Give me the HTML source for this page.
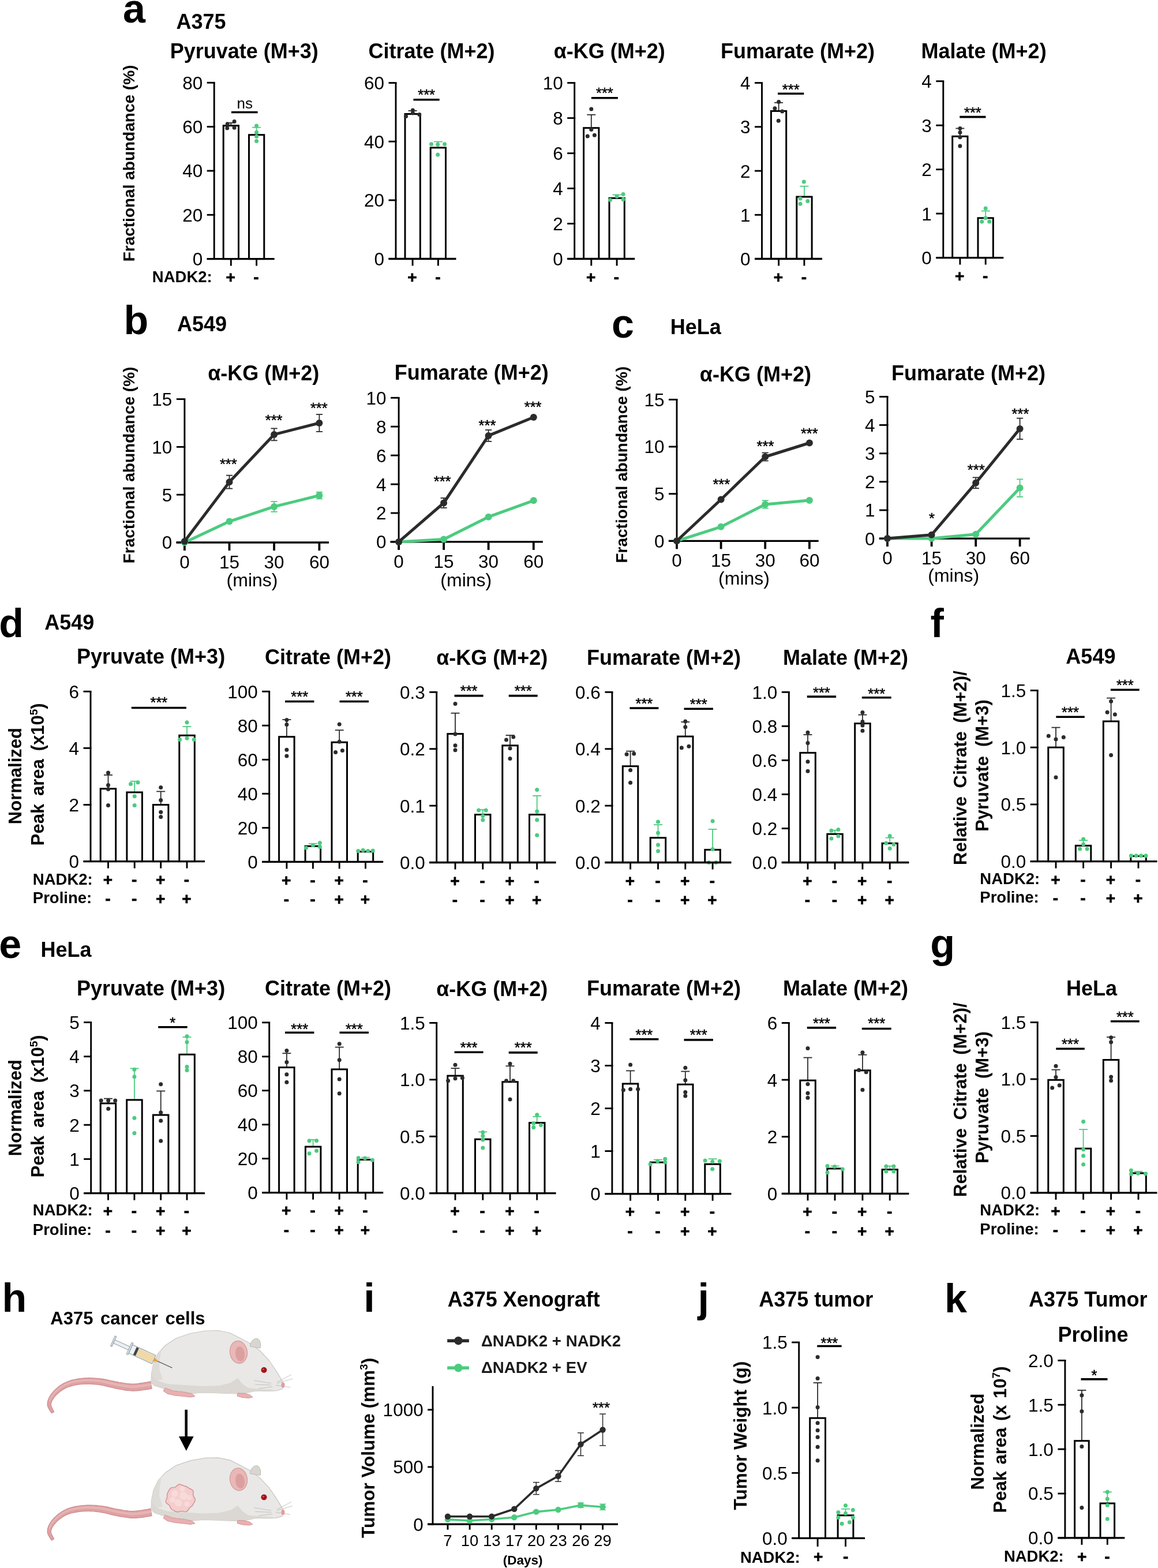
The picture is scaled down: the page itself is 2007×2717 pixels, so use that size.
<!DOCTYPE html>
<html lang="en">
<head>
<meta charset="utf-8">
<title>Figure</title>
<style>html,body{margin:0;padding:0;background:#fff;}body{width:2007px;height:2717px;overflow:hidden;}svg{display:block;}</style>
</head>
<body>
<svg xmlns="http://www.w3.org/2000/svg" width="2007" height="2717" viewBox="0 0 2007 2717" font-family="'Liberation Sans', Arial, Helvetica, sans-serif">
<rect width="2007" height="2717" fill="#fff"/>
<text x="213.1" y="39" font-size="70" font-weight="bold" fill="#000">a</text>
<text x="348.5" y="50" font-size="36" font-weight="bold" text-anchor="middle" fill="#000">A375</text>
<text x="232.6" y="283" font-size="28" font-weight="bold" text-anchor="middle" fill="#000" transform="rotate(-90 232.6 283)">Fractional abundance (%)</text>
<line x1="400.3" y1="217.7" x2="400.3" y2="212.8" stroke="#2b2b2b" stroke-width="1.8"/>
<line x1="392.8" y1="212.8" x2="407.8" y2="212.8" stroke="#2b2b2b" stroke-width="1.8"/>
<rect x="387.2" y="217.7" width="26.3" height="230.9" fill="none" stroke="#000" stroke-width="3"/>
<circle cx="406.1" cy="210.5" r="3.5" fill="#2b2b2b"/>
<circle cx="394.2" cy="214.7" r="3.5" fill="#2b2b2b"/>
<circle cx="393.8" cy="221.9" r="3.5" fill="#2b2b2b"/>
<circle cx="406.1" cy="221.2" r="3.5" fill="#2b2b2b"/>
<line x1="444.6" y1="233.7" x2="444.6" y2="220.8" stroke="#4ccb7f" stroke-width="1.8"/>
<line x1="437.1" y1="220.8" x2="452.1" y2="220.8" stroke="#4ccb7f" stroke-width="1.8"/>
<rect x="431.5" y="233.7" width="26.3" height="214.9" fill="none" stroke="#000" stroke-width="3"/>
<circle cx="444.6" cy="218.1" r="3.5" fill="#4ccb7f"/>
<circle cx="444.6" cy="229.2" r="3.5" fill="#4ccb7f"/>
<circle cx="444.6" cy="236.4" r="3.5" fill="#4ccb7f"/>
<circle cx="444.6" cy="244.4" r="3.5" fill="#4ccb7f"/>
<line x1="371.2" y1="450.1" x2="371.2" y2="143.2" stroke="#000" stroke-width="2.9"/>
<line x1="358.7" y1="448.6" x2="372.6" y2="448.6" stroke="#000" stroke-width="2.9"/>
<text x="351.2" y="460" font-size="31.5" text-anchor="end" fill="#000">0</text>
<line x1="358.7" y1="372.3" x2="372.6" y2="372.3" stroke="#000" stroke-width="2.9"/>
<text x="351.2" y="383.7" font-size="31.5" text-anchor="end" fill="#000">20</text>
<line x1="358.7" y1="296" x2="372.6" y2="296" stroke="#000" stroke-width="2.9"/>
<text x="351.2" y="307.4" font-size="31.5" text-anchor="end" fill="#000">40</text>
<line x1="358.7" y1="219.6" x2="372.6" y2="219.6" stroke="#000" stroke-width="2.9"/>
<text x="351.2" y="231" font-size="31.5" text-anchor="end" fill="#000">60</text>
<line x1="358.7" y1="143.3" x2="372.6" y2="143.3" stroke="#000" stroke-width="2.9"/>
<text x="351.2" y="154.7" font-size="31.5" text-anchor="end" fill="#000">80</text>
<line x1="358.7" y1="448.6" x2="475.7" y2="448.6" stroke="#000" stroke-width="3.3"/>
<line x1="400.3" y1="448.6" x2="400.3" y2="460.6" stroke="#000" stroke-width="2.9"/>
<line x1="444.6" y1="448.6" x2="444.6" y2="460.6" stroke="#000" stroke-width="2.9"/>
<text x="399.7" y="490.4" font-size="28" font-weight="bold" text-anchor="middle" fill="#000" stroke="#000" stroke-width="0.7">+</text>
<text x="444" y="490.4" font-size="28" font-weight="bold" text-anchor="middle" fill="#000" stroke="#000" stroke-width="0.7">-</text>
<text x="423.2" y="100.5" font-size="36" font-weight="bold" text-anchor="middle" fill="#000">Pyruvate (M+3)</text>
<line x1="715.1" y1="197.5" x2="715.1" y2="191.9" stroke="#2b2b2b" stroke-width="1.8"/>
<line x1="707.6" y1="191.9" x2="722.6" y2="191.9" stroke="#2b2b2b" stroke-width="1.8"/>
<rect x="702" y="197.5" width="26.3" height="251" fill="none" stroke="#000" stroke-width="3"/>
<circle cx="715.4" cy="190.9" r="3.5" fill="#2b2b2b"/>
<circle cx="715.4" cy="195.9" r="3.5" fill="#2b2b2b"/>
<circle cx="703.6" cy="201.5" r="3.5" fill="#2b2b2b"/>
<circle cx="726.8" cy="198.5" r="3.5" fill="#2b2b2b"/>
<line x1="759.4" y1="255.9" x2="759.4" y2="245.5" stroke="#4ccb7f" stroke-width="1.8"/>
<line x1="751.9" y1="245.5" x2="766.9" y2="245.5" stroke="#4ccb7f" stroke-width="1.8"/>
<rect x="746.2" y="255.9" width="26.3" height="192.6" fill="none" stroke="#000" stroke-width="3"/>
<circle cx="747.5" cy="249.8" r="3.5" fill="#4ccb7f"/>
<circle cx="758.7" cy="250.3" r="3.5" fill="#4ccb7f"/>
<circle cx="770.6" cy="249.8" r="3.5" fill="#4ccb7f"/>
<circle cx="758.7" cy="268.1" r="3.5" fill="#4ccb7f"/>
<line x1="686" y1="449.9" x2="686" y2="143.5" stroke="#000" stroke-width="2.9"/>
<line x1="673.5" y1="448.5" x2="687.5" y2="448.5" stroke="#000" stroke-width="2.9"/>
<text x="666" y="459.9" font-size="31.5" text-anchor="end" fill="#000">0</text>
<line x1="673.5" y1="346.9" x2="687.5" y2="346.9" stroke="#000" stroke-width="2.9"/>
<text x="666" y="358.3" font-size="31.5" text-anchor="end" fill="#000">20</text>
<line x1="673.5" y1="245.2" x2="687.5" y2="245.2" stroke="#000" stroke-width="2.9"/>
<text x="666" y="256.6" font-size="31.5" text-anchor="end" fill="#000">40</text>
<line x1="673.5" y1="143.6" x2="687.5" y2="143.6" stroke="#000" stroke-width="2.9"/>
<text x="666" y="155" font-size="31.5" text-anchor="end" fill="#000">60</text>
<line x1="673.5" y1="448.5" x2="790.5" y2="448.5" stroke="#000" stroke-width="3.3"/>
<line x1="715.1" y1="448.5" x2="715.1" y2="460.5" stroke="#000" stroke-width="2.9"/>
<line x1="759.4" y1="448.5" x2="759.4" y2="460.5" stroke="#000" stroke-width="2.9"/>
<line x1="716.5" y1="172.7" x2="761.7" y2="172.7" stroke="#000" stroke-width="3.6"/>
<text x="739.1" y="172.9" font-size="25.5" text-anchor="middle" fill="#000" stroke="#000" stroke-width="0.5">***</text>
<text x="714.5" y="490.3" font-size="28" font-weight="bold" text-anchor="middle" fill="#000" stroke="#000" stroke-width="0.7">+</text>
<text x="758.8" y="490.3" font-size="28" font-weight="bold" text-anchor="middle" fill="#000" stroke="#000" stroke-width="0.7">-</text>
<text x="748" y="101" font-size="36" font-weight="bold" text-anchor="middle" fill="#000">Citrate (M+2)</text>
<line x1="1024.8" y1="221.7" x2="1024.8" y2="198.8" stroke="#2b2b2b" stroke-width="1.8"/>
<line x1="1017.3" y1="198.8" x2="1032.3" y2="198.8" stroke="#2b2b2b" stroke-width="1.8"/>
<rect x="1011.6" y="221.7" width="26.3" height="226.8" fill="none" stroke="#000" stroke-width="3"/>
<circle cx="1024.8" cy="189" r="3.5" fill="#2b2b2b"/>
<circle cx="1024.8" cy="224.4" r="3.5" fill="#2b2b2b"/>
<circle cx="1018.3" cy="236" r="3.5" fill="#2b2b2b"/>
<circle cx="1030.4" cy="234.2" r="3.5" fill="#2b2b2b"/>
<line x1="1069.1" y1="343.3" x2="1069.1" y2="337.5" stroke="#4ccb7f" stroke-width="1.8"/>
<line x1="1061.6" y1="337.5" x2="1076.6" y2="337.5" stroke="#4ccb7f" stroke-width="1.8"/>
<rect x="1056" y="343.3" width="26.3" height="105.2" fill="none" stroke="#000" stroke-width="3"/>
<circle cx="1080.1" cy="336.6" r="3.5" fill="#4ccb7f"/>
<circle cx="1069.1" cy="340.3" r="3.5" fill="#4ccb7f"/>
<circle cx="1057.6" cy="346.4" r="3.5" fill="#4ccb7f"/>
<circle cx="1080.1" cy="345.4" r="3.5" fill="#4ccb7f"/>
<line x1="995.7" y1="449.9" x2="995.7" y2="143.5" stroke="#000" stroke-width="2.9"/>
<line x1="983.2" y1="448.5" x2="997.2" y2="448.5" stroke="#000" stroke-width="2.9"/>
<text x="975.7" y="459.9" font-size="31.5" text-anchor="end" fill="#000">0</text>
<line x1="983.2" y1="387.5" x2="997.2" y2="387.5" stroke="#000" stroke-width="2.9"/>
<text x="975.7" y="398.9" font-size="31.5" text-anchor="end" fill="#000">2</text>
<line x1="983.2" y1="326.5" x2="997.2" y2="326.5" stroke="#000" stroke-width="2.9"/>
<text x="975.7" y="337.9" font-size="31.5" text-anchor="end" fill="#000">4</text>
<line x1="983.2" y1="265.6" x2="997.2" y2="265.6" stroke="#000" stroke-width="2.9"/>
<text x="975.7" y="277" font-size="31.5" text-anchor="end" fill="#000">6</text>
<line x1="983.2" y1="204.6" x2="997.2" y2="204.6" stroke="#000" stroke-width="2.9"/>
<text x="975.7" y="216" font-size="31.5" text-anchor="end" fill="#000">8</text>
<line x1="983.2" y1="143.6" x2="997.2" y2="143.6" stroke="#000" stroke-width="2.9"/>
<text x="975.7" y="155" font-size="31.5" text-anchor="end" fill="#000">10</text>
<line x1="983.2" y1="448.5" x2="1100.2" y2="448.5" stroke="#000" stroke-width="3.3"/>
<line x1="1024.8" y1="448.5" x2="1024.8" y2="460.5" stroke="#000" stroke-width="2.9"/>
<line x1="1069.1" y1="448.5" x2="1069.1" y2="460.5" stroke="#000" stroke-width="2.9"/>
<line x1="1024.9" y1="169.8" x2="1070.9" y2="169.8" stroke="#000" stroke-width="3.6"/>
<text x="1047.9" y="169.9" font-size="25.5" text-anchor="middle" fill="#000" stroke="#000" stroke-width="0.5">***</text>
<text x="1024.2" y="490.3" font-size="28" font-weight="bold" text-anchor="middle" fill="#000" stroke="#000" stroke-width="0.7">+</text>
<text x="1068.5" y="490.3" font-size="28" font-weight="bold" text-anchor="middle" fill="#000" stroke="#000" stroke-width="0.7">-</text>
<text x="1056.2" y="101" font-size="36" font-weight="bold" text-anchor="middle" fill="#000">α-KG (M+2)</text>
<line x1="1349.6" y1="192.4" x2="1349.6" y2="177.9" stroke="#2b2b2b" stroke-width="1.8"/>
<line x1="1342.1" y1="177.9" x2="1357.1" y2="177.9" stroke="#2b2b2b" stroke-width="1.8"/>
<rect x="1336.4" y="192.4" width="26.3" height="256.1" fill="none" stroke="#000" stroke-width="3"/>
<circle cx="1349.6" cy="176.4" r="3.5" fill="#2b2b2b"/>
<circle cx="1342.9" cy="187.8" r="3.5" fill="#2b2b2b"/>
<circle cx="1355.7" cy="193.1" r="3.5" fill="#2b2b2b"/>
<circle cx="1349.2" cy="209.2" r="3.5" fill="#2b2b2b"/>
<line x1="1393.9" y1="341" x2="1393.9" y2="322.7" stroke="#4ccb7f" stroke-width="1.8"/>
<line x1="1386.4" y1="322.7" x2="1401.4" y2="322.7" stroke="#4ccb7f" stroke-width="1.8"/>
<rect x="1380.8" y="341" width="26.3" height="107.5" fill="none" stroke="#000" stroke-width="3"/>
<circle cx="1393.3" cy="315.1" r="3.5" fill="#4ccb7f"/>
<circle cx="1387" cy="344.1" r="3.5" fill="#4ccb7f"/>
<circle cx="1399.8" cy="348.6" r="3.5" fill="#4ccb7f"/>
<circle cx="1387" cy="353.2" r="3.5" fill="#4ccb7f"/>
<line x1="1320.5" y1="449.9" x2="1320.5" y2="143.5" stroke="#000" stroke-width="2.9"/>
<line x1="1308" y1="448.5" x2="1322" y2="448.5" stroke="#000" stroke-width="2.9"/>
<text x="1300.5" y="459.9" font-size="31.5" text-anchor="end" fill="#000">0</text>
<line x1="1308" y1="372.3" x2="1322" y2="372.3" stroke="#000" stroke-width="2.9"/>
<text x="1300.5" y="383.7" font-size="31.5" text-anchor="end" fill="#000">1</text>
<line x1="1308" y1="296.1" x2="1322" y2="296.1" stroke="#000" stroke-width="2.9"/>
<text x="1300.5" y="307.5" font-size="31.5" text-anchor="end" fill="#000">2</text>
<line x1="1308" y1="219.8" x2="1322" y2="219.8" stroke="#000" stroke-width="2.9"/>
<text x="1300.5" y="231.2" font-size="31.5" text-anchor="end" fill="#000">3</text>
<line x1="1308" y1="143.6" x2="1322" y2="143.6" stroke="#000" stroke-width="2.9"/>
<text x="1300.5" y="155" font-size="31.5" text-anchor="end" fill="#000">4</text>
<line x1="1308" y1="448.5" x2="1425" y2="448.5" stroke="#000" stroke-width="3.3"/>
<line x1="1349.6" y1="448.5" x2="1349.6" y2="460.5" stroke="#000" stroke-width="2.9"/>
<line x1="1393.9" y1="448.5" x2="1393.9" y2="460.5" stroke="#000" stroke-width="2.9"/>
<line x1="1348" y1="162.3" x2="1393.3" y2="162.3" stroke="#000" stroke-width="3.6"/>
<text x="1370.7" y="164" font-size="25.5" text-anchor="middle" fill="#000" stroke="#000" stroke-width="0.5">***</text>
<text x="1349" y="490.3" font-size="28" font-weight="bold" text-anchor="middle" fill="#000" stroke="#000" stroke-width="0.7">+</text>
<text x="1393.3" y="490.3" font-size="28" font-weight="bold" text-anchor="middle" fill="#000" stroke="#000" stroke-width="0.7">-</text>
<text x="1382.5" y="101" font-size="36" font-weight="bold" text-anchor="middle" fill="#000">Fumarate (M+2)</text>
<line x1="1663.9" y1="236.3" x2="1663.9" y2="222.5" stroke="#2b2b2b" stroke-width="1.8"/>
<line x1="1656.4" y1="222.5" x2="1671.4" y2="222.5" stroke="#2b2b2b" stroke-width="1.8"/>
<rect x="1650.7" y="236.3" width="26.3" height="210.3" fill="none" stroke="#000" stroke-width="3"/>
<circle cx="1663.9" cy="222.5" r="3.5" fill="#2b2b2b"/>
<circle cx="1663.9" cy="229.4" r="3.5" fill="#2b2b2b"/>
<circle cx="1663.9" cy="237.8" r="3.5" fill="#2b2b2b"/>
<circle cx="1663.9" cy="253.1" r="3.5" fill="#2b2b2b"/>
<line x1="1708.2" y1="377.8" x2="1708.2" y2="365.5" stroke="#4ccb7f" stroke-width="1.8"/>
<line x1="1700.7" y1="365.5" x2="1715.7" y2="365.5" stroke="#4ccb7f" stroke-width="1.8"/>
<rect x="1695" y="377.8" width="26.3" height="68.8" fill="none" stroke="#000" stroke-width="3"/>
<circle cx="1708.2" cy="360.9" r="3.5" fill="#4ccb7f"/>
<circle cx="1708.2" cy="377.8" r="3.5" fill="#4ccb7f"/>
<circle cx="1701.7" cy="383.9" r="3.5" fill="#4ccb7f"/>
<circle cx="1714.7" cy="383.9" r="3.5" fill="#4ccb7f"/>
<line x1="1634.8" y1="448.1" x2="1634.8" y2="140.6" stroke="#000" stroke-width="2.9"/>
<line x1="1622.3" y1="446.6" x2="1636.2" y2="446.6" stroke="#000" stroke-width="2.9"/>
<text x="1614.8" y="458" font-size="31.5" text-anchor="end" fill="#000">0</text>
<line x1="1622.3" y1="370.1" x2="1636.2" y2="370.1" stroke="#000" stroke-width="2.9"/>
<text x="1614.8" y="381.5" font-size="31.5" text-anchor="end" fill="#000">1</text>
<line x1="1622.3" y1="293.6" x2="1636.2" y2="293.6" stroke="#000" stroke-width="2.9"/>
<text x="1614.8" y="305.1" font-size="31.5" text-anchor="end" fill="#000">2</text>
<line x1="1622.3" y1="217.2" x2="1636.2" y2="217.2" stroke="#000" stroke-width="2.9"/>
<text x="1614.8" y="228.6" font-size="31.5" text-anchor="end" fill="#000">3</text>
<line x1="1622.3" y1="140.7" x2="1636.2" y2="140.7" stroke="#000" stroke-width="2.9"/>
<text x="1614.8" y="152.1" font-size="31.5" text-anchor="end" fill="#000">4</text>
<line x1="1622.3" y1="446.6" x2="1739.3" y2="446.6" stroke="#000" stroke-width="3.3"/>
<line x1="1663.9" y1="446.6" x2="1663.9" y2="458.6" stroke="#000" stroke-width="2.9"/>
<line x1="1708.2" y1="446.6" x2="1708.2" y2="458.6" stroke="#000" stroke-width="2.9"/>
<line x1="1663.3" y1="202.6" x2="1708.5" y2="202.6" stroke="#000" stroke-width="3.6"/>
<text x="1685.9" y="204.3" font-size="25.5" text-anchor="middle" fill="#000" stroke="#000" stroke-width="0.5">***</text>
<text x="1663.3" y="488.4" font-size="28" font-weight="bold" text-anchor="middle" fill="#000" stroke="#000" stroke-width="0.7">+</text>
<text x="1707.6" y="488.4" font-size="28" font-weight="bold" text-anchor="middle" fill="#000" stroke="#000" stroke-width="0.7">-</text>
<text x="1705.1" y="101" font-size="36" font-weight="bold" text-anchor="middle" fill="#000">Malate (M+2)</text>
<line x1="401" y1="194.5" x2="446.6" y2="194.5" stroke="#000" stroke-width="3.6"/>
<text x="424.2" y="188" font-size="26" text-anchor="middle" fill="#000">ns</text>
<text x="263.8" y="488.6" font-size="27.5" font-weight="bold" fill="#000">NADK2:</text>
<text x="214.4" y="579.2" font-size="70" font-weight="bold" fill="#000">b</text>
<text x="350" y="574" font-size="36" font-weight="bold" text-anchor="middle" fill="#000">A549</text>
<text x="1060" y="584.6" font-size="70" font-weight="bold" fill="#000">c</text>
<text x="1205.7" y="578.5" font-size="36" font-weight="bold" text-anchor="middle" fill="#000">HeLa</text>
<text x="233.4" y="806" font-size="28" font-weight="bold" text-anchor="middle" fill="#000" transform="rotate(-90 233.4 806)">Fractional abundance (%)</text>
<text x="1086.6" y="805.2" font-size="28" font-weight="bold" text-anchor="middle" fill="#000" transform="rotate(-90 1086.6 805.2)">Fractional abundance (%)</text>
<line x1="319.9" y1="941.5" x2="319.9" y2="691.4" stroke="#000" stroke-width="2.9"/>
<line x1="305.9" y1="940" x2="321.3" y2="940" stroke="#000" stroke-width="2.9"/>
<text x="298.4" y="951.4" font-size="31.5" text-anchor="end" fill="#000">0</text>
<line x1="305.9" y1="857.2" x2="321.3" y2="857.2" stroke="#000" stroke-width="2.9"/>
<text x="298.4" y="868.6" font-size="31.5" text-anchor="end" fill="#000">5</text>
<line x1="305.9" y1="774.4" x2="321.3" y2="774.4" stroke="#000" stroke-width="2.9"/>
<text x="298.4" y="785.8" font-size="31.5" text-anchor="end" fill="#000">10</text>
<line x1="305.9" y1="691.6" x2="321.3" y2="691.6" stroke="#000" stroke-width="2.9"/>
<text x="298.4" y="703" font-size="31.5" text-anchor="end" fill="#000">15</text>
<line x1="305.4" y1="940" x2="570" y2="940" stroke="#000" stroke-width="3.3"/>
<line x1="319.9" y1="940" x2="319.9" y2="954" stroke="#000" stroke-width="3.8"/>
<line x1="397.5" y1="940" x2="397.5" y2="954" stroke="#000" stroke-width="3.8"/>
<line x1="475.1" y1="940" x2="475.1" y2="954" stroke="#000" stroke-width="3.8"/>
<line x1="553.4" y1="940" x2="553.4" y2="954" stroke="#000" stroke-width="3.8"/>
<text x="319.9" y="985" font-size="31.5" text-anchor="middle" fill="#000">0</text>
<text x="397.5" y="985" font-size="31.5" text-anchor="middle" fill="#000">15</text>
<text x="475.1" y="985" font-size="31.5" text-anchor="middle" fill="#000">30</text>
<text x="553.4" y="985" font-size="31.5" text-anchor="middle" fill="#000">60</text>
<line x1="475.1" y1="886.8" x2="475.1" y2="869" stroke="#4ccb7f" stroke-width="1.8"/>
<line x1="469.5" y1="886.8" x2="480.7" y2="886.8" stroke="#4ccb7f" stroke-width="1.8"/>
<line x1="469.5" y1="869" x2="480.7" y2="869" stroke="#4ccb7f" stroke-width="1.8"/>
<line x1="553.4" y1="864.3" x2="553.4" y2="852.7" stroke="#4ccb7f" stroke-width="1.8"/>
<line x1="547.8" y1="864.3" x2="559" y2="864.3" stroke="#4ccb7f" stroke-width="1.8"/>
<line x1="547.8" y1="852.7" x2="559" y2="852.7" stroke="#4ccb7f" stroke-width="1.8"/>
<polyline points="319.9,940 397.5,903.6 475.1,877.9 553.4,858.5" fill="none" stroke="#4ccb7f" stroke-width="5" stroke-linejoin="round"/>
<circle cx="319.9" cy="940" r="6" fill="#4ccb7f"/>
<circle cx="397.5" cy="903.6" r="6" fill="#4ccb7f"/>
<circle cx="475.1" cy="877.9" r="6" fill="#4ccb7f"/>
<circle cx="553.4" cy="858.5" r="6" fill="#4ccb7f"/>
<line x1="397.5" y1="846.6" x2="397.5" y2="823.7" stroke="#2b2b2b" stroke-width="1.8"/>
<line x1="391.9" y1="846.6" x2="403.1" y2="846.6" stroke="#2b2b2b" stroke-width="1.8"/>
<line x1="391.9" y1="823.7" x2="403.1" y2="823.7" stroke="#2b2b2b" stroke-width="1.8"/>
<line x1="475.1" y1="763.3" x2="475.1" y2="742.4" stroke="#2b2b2b" stroke-width="1.8"/>
<line x1="469.5" y1="763.3" x2="480.7" y2="763.3" stroke="#2b2b2b" stroke-width="1.8"/>
<line x1="469.5" y1="742.4" x2="480.7" y2="742.4" stroke="#2b2b2b" stroke-width="1.8"/>
<line x1="553.4" y1="747.9" x2="553.4" y2="718.1" stroke="#2b2b2b" stroke-width="1.8"/>
<line x1="547.8" y1="747.9" x2="559" y2="747.9" stroke="#2b2b2b" stroke-width="1.8"/>
<line x1="547.8" y1="718.1" x2="559" y2="718.1" stroke="#2b2b2b" stroke-width="1.8"/>
<polyline points="319.9,938 397.5,835.2 475.1,752.9 553.4,733" fill="none" stroke="#2b2b2b" stroke-width="5" stroke-linejoin="round"/>
<circle cx="319.9" cy="938" r="6" fill="#2b2b2b"/>
<circle cx="397.5" cy="835.2" r="6" fill="#2b2b2b"/>
<circle cx="475.1" cy="752.9" r="6" fill="#2b2b2b"/>
<circle cx="553.4" cy="733" r="6" fill="#2b2b2b"/>
<text x="395.8" y="813.4" font-size="25.5" text-anchor="middle" fill="#000" stroke="#000" stroke-width="0.5">***</text>
<text x="474.6" y="737.1" font-size="25.5" text-anchor="middle" fill="#000" stroke="#000" stroke-width="0.5">***</text>
<text x="552.8" y="715.6" font-size="25.5" text-anchor="middle" fill="#000" stroke="#000" stroke-width="0.5">***</text>
<text x="456.8" y="658.6" font-size="36" font-weight="bold" text-anchor="middle" fill="#000">α-KG (M+2)</text>
<text x="437" y="1016.4" font-size="32" text-anchor="middle" fill="#000">(mins)</text>
<line x1="691.1" y1="940.4" x2="691.1" y2="689.1" stroke="#000" stroke-width="2.9"/>
<line x1="677.1" y1="938.9" x2="692.6" y2="938.9" stroke="#000" stroke-width="2.9"/>
<text x="669.6" y="950.3" font-size="31.5" text-anchor="end" fill="#000">0</text>
<line x1="677.1" y1="889" x2="692.6" y2="889" stroke="#000" stroke-width="2.9"/>
<text x="669.6" y="900.4" font-size="31.5" text-anchor="end" fill="#000">2</text>
<line x1="677.1" y1="839.1" x2="692.6" y2="839.1" stroke="#000" stroke-width="2.9"/>
<text x="669.6" y="850.5" font-size="31.5" text-anchor="end" fill="#000">4</text>
<line x1="677.1" y1="789.1" x2="692.6" y2="789.1" stroke="#000" stroke-width="2.9"/>
<text x="669.6" y="800.5" font-size="31.5" text-anchor="end" fill="#000">6</text>
<line x1="677.1" y1="739.2" x2="692.6" y2="739.2" stroke="#000" stroke-width="2.9"/>
<text x="669.6" y="750.6" font-size="31.5" text-anchor="end" fill="#000">8</text>
<line x1="677.1" y1="689.3" x2="692.6" y2="689.3" stroke="#000" stroke-width="2.9"/>
<text x="669.6" y="700.7" font-size="31.5" text-anchor="end" fill="#000">10</text>
<line x1="676.4" y1="938.9" x2="940.9" y2="938.9" stroke="#000" stroke-width="3.3"/>
<line x1="691.1" y1="938.9" x2="691.1" y2="952.9" stroke="#000" stroke-width="3.8"/>
<line x1="769.1" y1="938.9" x2="769.1" y2="952.9" stroke="#000" stroke-width="3.8"/>
<line x1="846.6" y1="938.9" x2="846.6" y2="952.9" stroke="#000" stroke-width="3.8"/>
<line x1="924.8" y1="938.9" x2="924.8" y2="952.9" stroke="#000" stroke-width="3.8"/>
<text x="691.1" y="984.2" font-size="31.5" text-anchor="middle" fill="#000">0</text>
<text x="769.1" y="984.2" font-size="31.5" text-anchor="middle" fill="#000">15</text>
<text x="846.6" y="984.2" font-size="31.5" text-anchor="middle" fill="#000">30</text>
<text x="924.8" y="984.2" font-size="31.5" text-anchor="middle" fill="#000">60</text>
<polyline points="691.1,938.9 769.1,934.4 846.6,895.7 924.8,867.3" fill="none" stroke="#4ccb7f" stroke-width="5" stroke-linejoin="round"/>
<circle cx="691.1" cy="938.9" r="6" fill="#4ccb7f"/>
<circle cx="769.1" cy="934.4" r="6" fill="#4ccb7f"/>
<circle cx="846.6" cy="895.7" r="6" fill="#4ccb7f"/>
<circle cx="924.8" cy="867.3" r="6" fill="#4ccb7f"/>
<line x1="769.1" y1="880" x2="769.1" y2="863" stroke="#2b2b2b" stroke-width="1.8"/>
<line x1="763.5" y1="880" x2="774.7" y2="880" stroke="#2b2b2b" stroke-width="1.8"/>
<line x1="763.5" y1="863" x2="774.7" y2="863" stroke="#2b2b2b" stroke-width="1.8"/>
<line x1="846.6" y1="764.9" x2="846.6" y2="745" stroke="#2b2b2b" stroke-width="1.8"/>
<line x1="841" y1="764.9" x2="852.2" y2="764.9" stroke="#2b2b2b" stroke-width="1.8"/>
<line x1="841" y1="745" x2="852.2" y2="745" stroke="#2b2b2b" stroke-width="1.8"/>
<polyline points="691.1,938.9 769.1,871.5 846.6,754.9 924.8,723" fill="none" stroke="#2b2b2b" stroke-width="5" stroke-linejoin="round"/>
<circle cx="691.1" cy="938.9" r="6" fill="#2b2b2b"/>
<circle cx="769.1" cy="871.5" r="6" fill="#2b2b2b"/>
<circle cx="846.6" cy="754.9" r="6" fill="#2b2b2b"/>
<circle cx="924.8" cy="723" r="6" fill="#2b2b2b"/>
<text x="766.6" y="843.2" font-size="25.5" text-anchor="middle" fill="#000" stroke="#000" stroke-width="0.5">***</text>
<text x="844.5" y="745.5" font-size="25.5" text-anchor="middle" fill="#000" stroke="#000" stroke-width="0.5">***</text>
<text x="923.6" y="714" font-size="25.5" text-anchor="middle" fill="#000" stroke="#000" stroke-width="0.5">***</text>
<text x="817.2" y="657.5" font-size="36" font-weight="bold" text-anchor="middle" fill="#000">Fumarate (M+2)</text>
<text x="807.8" y="1016" font-size="32" text-anchor="middle" fill="#000">(mins)</text>
<line x1="1173" y1="938.8" x2="1173" y2="692.2" stroke="#000" stroke-width="2.9"/>
<line x1="1159" y1="937.3" x2="1174.5" y2="937.3" stroke="#000" stroke-width="2.9"/>
<text x="1151.5" y="948.7" font-size="31.5" text-anchor="end" fill="#000">0</text>
<line x1="1159" y1="855.7" x2="1174.5" y2="855.7" stroke="#000" stroke-width="2.9"/>
<text x="1151.5" y="867.1" font-size="31.5" text-anchor="end" fill="#000">5</text>
<line x1="1159" y1="774" x2="1174.5" y2="774" stroke="#000" stroke-width="2.9"/>
<text x="1151.5" y="785.4" font-size="31.5" text-anchor="end" fill="#000">10</text>
<line x1="1159" y1="692.4" x2="1174.5" y2="692.4" stroke="#000" stroke-width="2.9"/>
<text x="1151.5" y="703.8" font-size="31.5" text-anchor="end" fill="#000">15</text>
<line x1="1158.8" y1="937.3" x2="1418.7" y2="937.3" stroke="#000" stroke-width="3.3"/>
<line x1="1173" y1="937.3" x2="1173" y2="951.3" stroke="#000" stroke-width="3.8"/>
<line x1="1249.6" y1="937.3" x2="1249.6" y2="951.3" stroke="#000" stroke-width="3.8"/>
<line x1="1326.2" y1="937.3" x2="1326.2" y2="951.3" stroke="#000" stroke-width="3.8"/>
<line x1="1402.9" y1="937.3" x2="1402.9" y2="951.3" stroke="#000" stroke-width="3.8"/>
<text x="1173" y="982.3" font-size="31.5" text-anchor="middle" fill="#000">0</text>
<text x="1249.6" y="982.3" font-size="31.5" text-anchor="middle" fill="#000">15</text>
<text x="1326.2" y="982.3" font-size="31.5" text-anchor="middle" fill="#000">30</text>
<text x="1402.9" y="982.3" font-size="31.5" text-anchor="middle" fill="#000">60</text>
<line x1="1326.2" y1="880.6" x2="1326.2" y2="867.3" stroke="#4ccb7f" stroke-width="1.8"/>
<line x1="1320.6" y1="880.6" x2="1331.8" y2="880.6" stroke="#4ccb7f" stroke-width="1.8"/>
<line x1="1320.6" y1="867.3" x2="1331.8" y2="867.3" stroke="#4ccb7f" stroke-width="1.8"/>
<polyline points="1173,937.3 1249.6,912.8 1326.2,874 1402.9,867.1" fill="none" stroke="#4ccb7f" stroke-width="5" stroke-linejoin="round"/>
<circle cx="1173" cy="937.3" r="6" fill="#4ccb7f"/>
<circle cx="1249.6" cy="912.8" r="6" fill="#4ccb7f"/>
<circle cx="1326.2" cy="874" r="6" fill="#4ccb7f"/>
<circle cx="1402.9" cy="867.1" r="6" fill="#4ccb7f"/>
<line x1="1326.2" y1="798.5" x2="1326.2" y2="784.5" stroke="#2b2b2b" stroke-width="1.8"/>
<line x1="1320.6" y1="798.5" x2="1331.8" y2="798.5" stroke="#2b2b2b" stroke-width="1.8"/>
<line x1="1320.6" y1="784.5" x2="1331.8" y2="784.5" stroke="#2b2b2b" stroke-width="1.8"/>
<polyline points="1173,937.3 1249.6,865.5 1326.2,791.5 1402.9,767.5" fill="none" stroke="#2b2b2b" stroke-width="5" stroke-linejoin="round"/>
<circle cx="1173" cy="937.3" r="6" fill="#2b2b2b"/>
<circle cx="1249.6" cy="865.5" r="6" fill="#2b2b2b"/>
<circle cx="1326.2" cy="791.5" r="6" fill="#2b2b2b"/>
<circle cx="1402.9" cy="767.5" r="6" fill="#2b2b2b"/>
<text x="1250.3" y="847.7" font-size="25.5" text-anchor="middle" fill="#000" stroke="#000" stroke-width="0.5">***</text>
<text x="1326.5" y="781.6" font-size="25.5" text-anchor="middle" fill="#000" stroke="#000" stroke-width="0.5">***</text>
<text x="1402.8" y="760" font-size="25.5" text-anchor="middle" fill="#000" stroke="#000" stroke-width="0.5">***</text>
<text x="1309.4" y="661.1" font-size="36" font-weight="bold" text-anchor="middle" fill="#000">α-KG (M+2)</text>
<text x="1289.5" y="1013.2" font-size="32" text-anchor="middle" fill="#000">(mins)</text>
<line x1="1538" y1="934.6" x2="1538" y2="687.2" stroke="#000" stroke-width="2.9"/>
<line x1="1524" y1="933.1" x2="1539.5" y2="933.1" stroke="#000" stroke-width="2.9"/>
<text x="1516.5" y="944.5" font-size="31.5" text-anchor="end" fill="#000">0</text>
<line x1="1524" y1="884" x2="1539.5" y2="884" stroke="#000" stroke-width="2.9"/>
<text x="1516.5" y="895.4" font-size="31.5" text-anchor="end" fill="#000">1</text>
<line x1="1524" y1="834.8" x2="1539.5" y2="834.8" stroke="#000" stroke-width="2.9"/>
<text x="1516.5" y="846.2" font-size="31.5" text-anchor="end" fill="#000">2</text>
<line x1="1524" y1="785.7" x2="1539.5" y2="785.7" stroke="#000" stroke-width="2.9"/>
<text x="1516.5" y="797.1" font-size="31.5" text-anchor="end" fill="#000">3</text>
<line x1="1524" y1="736.5" x2="1539.5" y2="736.5" stroke="#000" stroke-width="2.9"/>
<text x="1516.5" y="747.9" font-size="31.5" text-anchor="end" fill="#000">4</text>
<line x1="1524" y1="687.4" x2="1539.5" y2="687.4" stroke="#000" stroke-width="2.9"/>
<text x="1516.5" y="698.8" font-size="31.5" text-anchor="end" fill="#000">5</text>
<line x1="1523.7" y1="933.1" x2="1784.8" y2="933.1" stroke="#000" stroke-width="3.3"/>
<line x1="1538" y1="933.1" x2="1538" y2="947.1" stroke="#000" stroke-width="3.8"/>
<line x1="1614.6" y1="933.1" x2="1614.6" y2="947.1" stroke="#000" stroke-width="3.8"/>
<line x1="1691.2" y1="933.1" x2="1691.2" y2="947.1" stroke="#000" stroke-width="3.8"/>
<line x1="1767.6" y1="933.1" x2="1767.6" y2="947.1" stroke="#000" stroke-width="3.8"/>
<text x="1538" y="977.8" font-size="31.5" text-anchor="middle" fill="#000">0</text>
<text x="1614.6" y="977.8" font-size="31.5" text-anchor="middle" fill="#000">15</text>
<text x="1691.2" y="977.8" font-size="31.5" text-anchor="middle" fill="#000">30</text>
<text x="1767.6" y="977.8" font-size="31.5" text-anchor="middle" fill="#000">60</text>
<line x1="1767.6" y1="860.9" x2="1767.6" y2="830.4" stroke="#4ccb7f" stroke-width="1.8"/>
<line x1="1762" y1="860.9" x2="1773.2" y2="860.9" stroke="#4ccb7f" stroke-width="1.8"/>
<line x1="1762" y1="830.4" x2="1773.2" y2="830.4" stroke="#4ccb7f" stroke-width="1.8"/>
<polyline points="1538,933.1 1614.6,933.1 1691.2,925.7 1767.6,845.6" fill="none" stroke="#4ccb7f" stroke-width="5" stroke-linejoin="round"/>
<circle cx="1538" cy="933.1" r="6" fill="#4ccb7f"/>
<circle cx="1614.6" cy="933.1" r="6" fill="#4ccb7f"/>
<circle cx="1691.2" cy="925.7" r="6" fill="#4ccb7f"/>
<circle cx="1767.6" cy="845.6" r="6" fill="#4ccb7f"/>
<line x1="1691.2" y1="846.1" x2="1691.2" y2="827.4" stroke="#2b2b2b" stroke-width="1.8"/>
<line x1="1685.6" y1="846.1" x2="1696.8" y2="846.1" stroke="#2b2b2b" stroke-width="1.8"/>
<line x1="1685.6" y1="827.4" x2="1696.8" y2="827.4" stroke="#2b2b2b" stroke-width="1.8"/>
<line x1="1767.6" y1="761.1" x2="1767.6" y2="724.7" stroke="#2b2b2b" stroke-width="1.8"/>
<line x1="1762" y1="761.1" x2="1773.2" y2="761.1" stroke="#2b2b2b" stroke-width="1.8"/>
<line x1="1762" y1="724.7" x2="1773.2" y2="724.7" stroke="#2b2b2b" stroke-width="1.8"/>
<polyline points="1538,933.1 1614.6,926.7 1691.2,836.8 1767.6,742.9" fill="none" stroke="#2b2b2b" stroke-width="5" stroke-linejoin="round"/>
<circle cx="1538" cy="933.1" r="6" fill="#2b2b2b"/>
<circle cx="1614.6" cy="926.7" r="6" fill="#2b2b2b"/>
<circle cx="1691.2" cy="836.8" r="6" fill="#2b2b2b"/>
<circle cx="1767.6" cy="742.9" r="6" fill="#2b2b2b"/>
<text x="1615" y="906.6" font-size="25.5" text-anchor="middle" fill="#000" stroke="#000" stroke-width="0.5">*</text>
<text x="1691.7" y="822.5" font-size="25.5" text-anchor="middle" fill="#000" stroke="#000" stroke-width="0.5">***</text>
<text x="1768.5" y="725.9" font-size="25.5" text-anchor="middle" fill="#000" stroke="#000" stroke-width="0.5">***</text>
<text x="1678.5" y="658.7" font-size="36" font-weight="bold" text-anchor="middle" fill="#000">Fumarate (M+2)</text>
<text x="1652.7" y="1008.3" font-size="32" text-anchor="middle" fill="#000">(mins)</text>
<text x="-1.7" y="1103.5" font-size="70" font-weight="bold" fill="#000">d</text>
<text x="120.2" y="1090.8" font-size="36" font-weight="bold" text-anchor="middle" fill="#000">A549</text>
<text x="36.9" y="1344.6" font-size="31" font-weight="bold" text-anchor="middle" fill="#000" transform="rotate(-90 36.9 1344.6)">Normalized</text>
<text x="75.6" y="1341.8" font-size="31" font-weight="bold" text-anchor="middle" fill="#000" transform="rotate(-90 75.6 1341.8)" word-spacing="5.3">Peak area (x10<tspan font-size="19" dy="-11">5</tspan><tspan dy="11">)</tspan></text>
<text x="56.8" y="1532.6" font-size="27.5" font-weight="bold" fill="#000">NADK2:</text>
<text x="56.8" y="1565.2" font-size="27.5" font-weight="bold" fill="#000">Proline:</text>
<line x1="187.5" y1="1366.7" x2="187.5" y2="1342.9" stroke="#2b2b2b" stroke-width="1.8"/>
<line x1="180" y1="1342.9" x2="195" y2="1342.9" stroke="#2b2b2b" stroke-width="1.8"/>
<rect x="174.2" y="1366.7" width="26.5" height="125.9" fill="none" stroke="#000" stroke-width="3"/>
<circle cx="187.5" cy="1339" r="3.5" fill="#2b2b2b"/>
<circle cx="187.5" cy="1360.6" r="3.5" fill="#2b2b2b"/>
<circle cx="187.5" cy="1367.5" r="3.5" fill="#2b2b2b"/>
<circle cx="187.5" cy="1395.4" r="3.5" fill="#2b2b2b"/>
<line x1="233.2" y1="1372.9" x2="233.2" y2="1353.7" stroke="#4ccb7f" stroke-width="1.8"/>
<line x1="225.7" y1="1353.7" x2="240.7" y2="1353.7" stroke="#4ccb7f" stroke-width="1.8"/>
<rect x="219.9" y="1372.9" width="26.5" height="119.7" fill="none" stroke="#000" stroke-width="3"/>
<circle cx="226.5" cy="1358.6" r="3.5" fill="#4ccb7f"/>
<circle cx="239" cy="1355.7" r="3.5" fill="#4ccb7f"/>
<circle cx="233.2" cy="1379.7" r="3.5" fill="#4ccb7f"/>
<circle cx="233.2" cy="1395.4" r="3.5" fill="#4ccb7f"/>
<line x1="278.7" y1="1394.5" x2="278.7" y2="1371.4" stroke="#2b2b2b" stroke-width="1.8"/>
<line x1="271.2" y1="1371.4" x2="286.2" y2="1371.4" stroke="#2b2b2b" stroke-width="1.8"/>
<rect x="265.4" y="1394.5" width="26.5" height="98.1" fill="none" stroke="#000" stroke-width="3"/>
<circle cx="278.7" cy="1364.5" r="3.5" fill="#2b2b2b"/>
<circle cx="278.7" cy="1386.6" r="3.5" fill="#2b2b2b"/>
<circle cx="278.7" cy="1407.2" r="3.5" fill="#2b2b2b"/>
<circle cx="278.7" cy="1415.6" r="3.5" fill="#2b2b2b"/>
<line x1="324" y1="1274.3" x2="324" y2="1259" stroke="#4ccb7f" stroke-width="1.8"/>
<line x1="316.5" y1="1259" x2="331.5" y2="1259" stroke="#4ccb7f" stroke-width="1.8"/>
<rect x="310.8" y="1274.3" width="26.5" height="218.3" fill="none" stroke="#000" stroke-width="3"/>
<circle cx="324" cy="1251.7" r="3.5" fill="#4ccb7f"/>
<circle cx="311.6" cy="1281.6" r="3.5" fill="#4ccb7f"/>
<circle cx="324" cy="1279.2" r="3.5" fill="#4ccb7f"/>
<circle cx="336.2" cy="1281.6" r="3.5" fill="#4ccb7f"/>
<line x1="157" y1="1494" x2="157" y2="1198" stroke="#000" stroke-width="2.9"/>
<line x1="144.5" y1="1492.6" x2="158.4" y2="1492.6" stroke="#000" stroke-width="2.9"/>
<text x="137" y="1504" font-size="31.5" text-anchor="end" fill="#000">0</text>
<line x1="144.5" y1="1394.5" x2="158.4" y2="1394.5" stroke="#000" stroke-width="2.9"/>
<text x="137" y="1405.9" font-size="31.5" text-anchor="end" fill="#000">2</text>
<line x1="144.5" y1="1296.3" x2="158.4" y2="1296.3" stroke="#000" stroke-width="2.9"/>
<text x="137" y="1307.7" font-size="31.5" text-anchor="end" fill="#000">4</text>
<line x1="144.5" y1="1198.2" x2="158.4" y2="1198.2" stroke="#000" stroke-width="2.9"/>
<text x="137" y="1209.6" font-size="31.5" text-anchor="end" fill="#000">6</text>
<line x1="144.5" y1="1492.6" x2="355" y2="1492.6" stroke="#000" stroke-width="3.3"/>
<line x1="187.5" y1="1492.6" x2="187.5" y2="1504.6" stroke="#000" stroke-width="2.9"/>
<line x1="233.2" y1="1492.6" x2="233.2" y2="1504.6" stroke="#000" stroke-width="2.9"/>
<line x1="278.7" y1="1492.6" x2="278.7" y2="1504.6" stroke="#000" stroke-width="2.9"/>
<line x1="324" y1="1492.6" x2="324" y2="1504.6" stroke="#000" stroke-width="2.9"/>
<line x1="227.8" y1="1226.5" x2="322.9" y2="1226.5" stroke="#000" stroke-width="3.6"/>
<text x="275.4" y="1226.3" font-size="25.5" text-anchor="middle" fill="#000" stroke="#000" stroke-width="0.5">***</text>
<text x="186.9" y="1534.4" font-size="28" font-weight="bold" text-anchor="middle" fill="#000" stroke="#000" stroke-width="0.7">+</text>
<text x="232.6" y="1534.4" font-size="28" font-weight="bold" text-anchor="middle" fill="#000" stroke="#000" stroke-width="0.7">-</text>
<text x="278.1" y="1534.4" font-size="28" font-weight="bold" text-anchor="middle" fill="#000" stroke="#000" stroke-width="0.7">+</text>
<text x="323.4" y="1534.4" font-size="28" font-weight="bold" text-anchor="middle" fill="#000" stroke="#000" stroke-width="0.7">-</text>
<text x="186.9" y="1567" font-size="28" font-weight="bold" text-anchor="middle" fill="#000" stroke="#000" stroke-width="0.7">-</text>
<text x="232.6" y="1567" font-size="28" font-weight="bold" text-anchor="middle" fill="#000" stroke="#000" stroke-width="0.7">-</text>
<text x="278.1" y="1567" font-size="28" font-weight="bold" text-anchor="middle" fill="#000" stroke="#000" stroke-width="0.7">+</text>
<text x="323.4" y="1567" font-size="28" font-weight="bold" text-anchor="middle" fill="#000" stroke="#000" stroke-width="0.7">+</text>
<text x="261.6" y="1150.1" font-size="36" font-weight="bold" text-anchor="middle" fill="#000">Pyruvate (M+3)</text>
<line x1="496.9" y1="1276.7" x2="496.9" y2="1246.9" stroke="#2b2b2b" stroke-width="1.8"/>
<line x1="489.4" y1="1246.9" x2="504.4" y2="1246.9" stroke="#2b2b2b" stroke-width="1.8"/>
<rect x="483.6" y="1276.7" width="26.5" height="216.7" fill="none" stroke="#000" stroke-width="3"/>
<circle cx="496.9" cy="1247.5" r="3.5" fill="#2b2b2b"/>
<circle cx="496.9" cy="1255.5" r="3.5" fill="#2b2b2b"/>
<circle cx="496.9" cy="1299.2" r="3.5" fill="#2b2b2b"/>
<circle cx="496.9" cy="1310.1" r="3.5" fill="#2b2b2b"/>
<line x1="542.4" y1="1466.2" x2="542.4" y2="1461.8" stroke="#4ccb7f" stroke-width="1.8"/>
<line x1="534.9" y1="1461.8" x2="549.9" y2="1461.8" stroke="#4ccb7f" stroke-width="1.8"/>
<rect x="529.1" y="1466.2" width="26.5" height="27.2" fill="none" stroke="#000" stroke-width="3"/>
<circle cx="530.4" cy="1469.2" r="3.5" fill="#4ccb7f"/>
<circle cx="542.4" cy="1464.5" r="3.5" fill="#4ccb7f"/>
<circle cx="554.4" cy="1460.6" r="3.5" fill="#4ccb7f"/>
<circle cx="554.4" cy="1467.4" r="3.5" fill="#4ccb7f"/>
<line x1="588.2" y1="1286.2" x2="588.2" y2="1265.2" stroke="#2b2b2b" stroke-width="1.8"/>
<line x1="580.7" y1="1265.2" x2="595.7" y2="1265.2" stroke="#2b2b2b" stroke-width="1.8"/>
<rect x="575" y="1286.2" width="26.5" height="207.2" fill="none" stroke="#000" stroke-width="3"/>
<circle cx="588.2" cy="1254.9" r="3.5" fill="#2b2b2b"/>
<circle cx="588.2" cy="1285.3" r="3.5" fill="#2b2b2b"/>
<circle cx="581.6" cy="1303.6" r="3.5" fill="#2b2b2b"/>
<circle cx="593.4" cy="1300.6" r="3.5" fill="#2b2b2b"/>
<line x1="633.5" y1="1475.7" x2="633.5" y2="1474.8" stroke="#4ccb7f" stroke-width="1.8"/>
<line x1="626" y1="1474.8" x2="641" y2="1474.8" stroke="#4ccb7f" stroke-width="1.8"/>
<rect x="620.2" y="1475.7" width="26.5" height="17.7" fill="none" stroke="#000" stroke-width="3"/>
<circle cx="620.7" cy="1474.5" r="3.5" fill="#4ccb7f"/>
<circle cx="629.2" cy="1473.3" r="3.5" fill="#4ccb7f"/>
<circle cx="637.8" cy="1474.5" r="3.5" fill="#4ccb7f"/>
<circle cx="646.3" cy="1473.9" r="3.5" fill="#4ccb7f"/>
<line x1="466.7" y1="1494.9" x2="466.7" y2="1198" stroke="#000" stroke-width="2.9"/>
<line x1="454.2" y1="1493.4" x2="468.1" y2="1493.4" stroke="#000" stroke-width="2.9"/>
<text x="446.7" y="1504.8" font-size="31.5" text-anchor="end" fill="#000">0</text>
<line x1="454.2" y1="1434.4" x2="468.1" y2="1434.4" stroke="#000" stroke-width="2.9"/>
<text x="446.7" y="1445.8" font-size="31.5" text-anchor="end" fill="#000">20</text>
<line x1="454.2" y1="1375.3" x2="468.1" y2="1375.3" stroke="#000" stroke-width="2.9"/>
<text x="446.7" y="1386.7" font-size="31.5" text-anchor="end" fill="#000">40</text>
<line x1="454.2" y1="1316.3" x2="468.1" y2="1316.3" stroke="#000" stroke-width="2.9"/>
<text x="446.7" y="1327.7" font-size="31.5" text-anchor="end" fill="#000">60</text>
<line x1="454.2" y1="1257.2" x2="468.1" y2="1257.2" stroke="#000" stroke-width="2.9"/>
<text x="446.7" y="1268.6" font-size="31.5" text-anchor="end" fill="#000">80</text>
<line x1="454.2" y1="1198.2" x2="468.1" y2="1198.2" stroke="#000" stroke-width="2.9"/>
<text x="446.7" y="1209.6" font-size="31.5" text-anchor="end" fill="#000">100</text>
<line x1="454.2" y1="1493.4" x2="664.2" y2="1493.4" stroke="#000" stroke-width="3.3"/>
<line x1="496.9" y1="1493.4" x2="496.9" y2="1505.4" stroke="#000" stroke-width="2.9"/>
<line x1="542.4" y1="1493.4" x2="542.4" y2="1505.4" stroke="#000" stroke-width="2.9"/>
<line x1="588.2" y1="1493.4" x2="588.2" y2="1505.4" stroke="#000" stroke-width="2.9"/>
<line x1="633.5" y1="1493.4" x2="633.5" y2="1505.4" stroke="#000" stroke-width="2.9"/>
<line x1="494" y1="1215.5" x2="544.4" y2="1215.5" stroke="#000" stroke-width="3.6"/>
<text x="519.2" y="1216.3" font-size="25.5" text-anchor="middle" fill="#000" stroke="#000" stroke-width="0.5">***</text>
<line x1="588.5" y1="1215.5" x2="639" y2="1215.5" stroke="#000" stroke-width="3.6"/>
<text x="613.8" y="1216.3" font-size="25.5" text-anchor="middle" fill="#000" stroke="#000" stroke-width="0.5">***</text>
<text x="496.3" y="1535.2" font-size="28" font-weight="bold" text-anchor="middle" fill="#000" stroke="#000" stroke-width="0.7">+</text>
<text x="541.8" y="1535.2" font-size="28" font-weight="bold" text-anchor="middle" fill="#000" stroke="#000" stroke-width="0.7">-</text>
<text x="587.6" y="1535.2" font-size="28" font-weight="bold" text-anchor="middle" fill="#000" stroke="#000" stroke-width="0.7">+</text>
<text x="632.9" y="1535.2" font-size="28" font-weight="bold" text-anchor="middle" fill="#000" stroke="#000" stroke-width="0.7">-</text>
<text x="496.3" y="1567.8" font-size="28" font-weight="bold" text-anchor="middle" fill="#000" stroke="#000" stroke-width="0.7">-</text>
<text x="541.8" y="1567.8" font-size="28" font-weight="bold" text-anchor="middle" fill="#000" stroke="#000" stroke-width="0.7">-</text>
<text x="587.6" y="1567.8" font-size="28" font-weight="bold" text-anchor="middle" fill="#000" stroke="#000" stroke-width="0.7">+</text>
<text x="632.9" y="1567.8" font-size="28" font-weight="bold" text-anchor="middle" fill="#000" stroke="#000" stroke-width="0.7">+</text>
<text x="568.6" y="1151" font-size="36" font-weight="bold" text-anchor="middle" fill="#000">Citrate (M+2)</text>
<line x1="789" y1="1271.6" x2="789" y2="1235.7" stroke="#2b2b2b" stroke-width="1.8"/>
<line x1="781.5" y1="1235.7" x2="796.5" y2="1235.7" stroke="#2b2b2b" stroke-width="1.8"/>
<rect x="775.8" y="1271.6" width="26.5" height="222.9" fill="none" stroke="#000" stroke-width="3"/>
<circle cx="789" cy="1219.5" r="3.5" fill="#2b2b2b"/>
<circle cx="789" cy="1272.1" r="3.5" fill="#2b2b2b"/>
<circle cx="789" cy="1291.8" r="3.5" fill="#2b2b2b"/>
<circle cx="789" cy="1299.7" r="3.5" fill="#2b2b2b"/>
<line x1="836.8" y1="1411.5" x2="836.8" y2="1403" stroke="#4ccb7f" stroke-width="1.8"/>
<line x1="829.3" y1="1403" x2="844.3" y2="1403" stroke="#4ccb7f" stroke-width="1.8"/>
<rect x="823.5" y="1411.5" width="26.5" height="83" fill="none" stroke="#000" stroke-width="3"/>
<circle cx="829.6" cy="1404" r="3.5" fill="#4ccb7f"/>
<circle cx="842.2" cy="1404" r="3.5" fill="#4ccb7f"/>
<circle cx="836.8" cy="1413.8" r="3.5" fill="#4ccb7f"/>
<circle cx="836.8" cy="1420.7" r="3.5" fill="#4ccb7f"/>
<line x1="884" y1="1291.8" x2="884" y2="1274.1" stroke="#2b2b2b" stroke-width="1.8"/>
<line x1="876.5" y1="1274.1" x2="891.5" y2="1274.1" stroke="#2b2b2b" stroke-width="1.8"/>
<rect x="870.8" y="1291.8" width="26.5" height="202.7" fill="none" stroke="#000" stroke-width="3"/>
<circle cx="877.5" cy="1282" r="3.5" fill="#2b2b2b"/>
<circle cx="889.7" cy="1277" r="3.5" fill="#2b2b2b"/>
<circle cx="884" cy="1296.7" r="3.5" fill="#2b2b2b"/>
<circle cx="884" cy="1314.4" r="3.5" fill="#2b2b2b"/>
<line x1="930.7" y1="1411.5" x2="930.7" y2="1378.9" stroke="#4ccb7f" stroke-width="1.8"/>
<line x1="923.2" y1="1378.9" x2="938.2" y2="1378.9" stroke="#4ccb7f" stroke-width="1.8"/>
<rect x="917.5" y="1411.5" width="26.5" height="83" fill="none" stroke="#000" stroke-width="3"/>
<circle cx="930.7" cy="1368.5" r="3.5" fill="#4ccb7f"/>
<circle cx="930.7" cy="1405.9" r="3.5" fill="#4ccb7f"/>
<circle cx="930.7" cy="1420.7" r="3.5" fill="#4ccb7f"/>
<circle cx="930.7" cy="1447.3" r="3.5" fill="#4ccb7f"/>
<line x1="756.7" y1="1496" x2="756.7" y2="1199.1" stroke="#000" stroke-width="2.9"/>
<line x1="744.2" y1="1494.5" x2="758.2" y2="1494.5" stroke="#000" stroke-width="2.9"/>
<text x="736.7" y="1505.9" font-size="31.5" text-anchor="end" fill="#000">0.0</text>
<line x1="744.2" y1="1396.1" x2="758.2" y2="1396.1" stroke="#000" stroke-width="2.9"/>
<text x="736.7" y="1407.5" font-size="31.5" text-anchor="end" fill="#000">0.1</text>
<line x1="744.2" y1="1297.7" x2="758.2" y2="1297.7" stroke="#000" stroke-width="2.9"/>
<text x="736.7" y="1309.1" font-size="31.5" text-anchor="end" fill="#000">0.2</text>
<line x1="744.2" y1="1199.3" x2="758.2" y2="1199.3" stroke="#000" stroke-width="2.9"/>
<text x="736.7" y="1210.7" font-size="31.5" text-anchor="end" fill="#000">0.3</text>
<line x1="744.2" y1="1494.5" x2="963.6" y2="1494.5" stroke="#000" stroke-width="3.3"/>
<line x1="789" y1="1494.5" x2="789" y2="1506.5" stroke="#000" stroke-width="2.9"/>
<line x1="836.8" y1="1494.5" x2="836.8" y2="1506.5" stroke="#000" stroke-width="2.9"/>
<line x1="884" y1="1494.5" x2="884" y2="1506.5" stroke="#000" stroke-width="2.9"/>
<line x1="930.7" y1="1494.5" x2="930.7" y2="1506.5" stroke="#000" stroke-width="2.9"/>
<line x1="787.6" y1="1205.6" x2="837.6" y2="1205.6" stroke="#000" stroke-width="3.6"/>
<text x="812.6" y="1205.8" font-size="25.5" text-anchor="middle" fill="#000" stroke="#000" stroke-width="0.5">***</text>
<line x1="881.7" y1="1205.6" x2="931.7" y2="1205.6" stroke="#000" stroke-width="3.6"/>
<text x="906.7" y="1205.8" font-size="25.5" text-anchor="middle" fill="#000" stroke="#000" stroke-width="0.5">***</text>
<text x="788.4" y="1536.3" font-size="28" font-weight="bold" text-anchor="middle" fill="#000" stroke="#000" stroke-width="0.7">+</text>
<text x="836.2" y="1536.3" font-size="28" font-weight="bold" text-anchor="middle" fill="#000" stroke="#000" stroke-width="0.7">-</text>
<text x="883.4" y="1536.3" font-size="28" font-weight="bold" text-anchor="middle" fill="#000" stroke="#000" stroke-width="0.7">+</text>
<text x="930.1" y="1536.3" font-size="28" font-weight="bold" text-anchor="middle" fill="#000" stroke="#000" stroke-width="0.7">-</text>
<text x="788.4" y="1568.9" font-size="28" font-weight="bold" text-anchor="middle" fill="#000" stroke="#000" stroke-width="0.7">-</text>
<text x="836.2" y="1568.9" font-size="28" font-weight="bold" text-anchor="middle" fill="#000" stroke="#000" stroke-width="0.7">-</text>
<text x="883.4" y="1568.9" font-size="28" font-weight="bold" text-anchor="middle" fill="#000" stroke="#000" stroke-width="0.7">+</text>
<text x="930.1" y="1568.9" font-size="28" font-weight="bold" text-anchor="middle" fill="#000" stroke="#000" stroke-width="0.7">+</text>
<text x="852.8" y="1152" font-size="36" font-weight="bold" text-anchor="middle" fill="#000">α-KG (M+2)</text>
<line x1="1092.6" y1="1327.7" x2="1092.6" y2="1301.6" stroke="#2b2b2b" stroke-width="1.8"/>
<line x1="1085.1" y1="1301.6" x2="1100.1" y2="1301.6" stroke="#2b2b2b" stroke-width="1.8"/>
<rect x="1079.3" y="1327.7" width="26.5" height="166.8" fill="none" stroke="#000" stroke-width="3"/>
<circle cx="1086.1" cy="1307" r="3.5" fill="#2b2b2b"/>
<circle cx="1098.7" cy="1306.1" r="3.5" fill="#2b2b2b"/>
<circle cx="1092.6" cy="1334.6" r="3.5" fill="#2b2b2b"/>
<circle cx="1092.6" cy="1356.2" r="3.5" fill="#2b2b2b"/>
<line x1="1140.5" y1="1451.7" x2="1140.5" y2="1429.1" stroke="#4ccb7f" stroke-width="1.8"/>
<line x1="1133" y1="1429.1" x2="1148" y2="1429.1" stroke="#4ccb7f" stroke-width="1.8"/>
<rect x="1127.2" y="1451.7" width="26.5" height="42.8" fill="none" stroke="#000" stroke-width="3"/>
<circle cx="1140.5" cy="1424.1" r="3.5" fill="#4ccb7f"/>
<circle cx="1140.5" cy="1443.3" r="3.5" fill="#4ccb7f"/>
<circle cx="1140.5" cy="1464" r="3.5" fill="#4ccb7f"/>
<circle cx="1140.5" cy="1474.8" r="3.5" fill="#4ccb7f"/>
<line x1="1187.8" y1="1276.1" x2="1187.8" y2="1251" stroke="#2b2b2b" stroke-width="1.8"/>
<line x1="1180.3" y1="1251" x2="1195.3" y2="1251" stroke="#2b2b2b" stroke-width="1.8"/>
<rect x="1174.5" y="1276.1" width="26.5" height="218.4" fill="none" stroke="#000" stroke-width="3"/>
<circle cx="1187.8" cy="1250" r="3.5" fill="#2b2b2b"/>
<circle cx="1187.8" cy="1259.8" r="3.5" fill="#2b2b2b"/>
<circle cx="1181.3" cy="1295.7" r="3.5" fill="#2b2b2b"/>
<circle cx="1193.9" cy="1293.3" r="3.5" fill="#2b2b2b"/>
<line x1="1235.1" y1="1472.4" x2="1235.1" y2="1436.9" stroke="#4ccb7f" stroke-width="1.8"/>
<line x1="1227.6" y1="1436.9" x2="1242.6" y2="1436.9" stroke="#4ccb7f" stroke-width="1.8"/>
<rect x="1221.8" y="1472.4" width="26.5" height="22.1" fill="none" stroke="#000" stroke-width="3"/>
<circle cx="1235.1" cy="1422.7" r="3.5" fill="#4ccb7f"/>
<circle cx="1235.1" cy="1471.4" r="3.5" fill="#4ccb7f"/>
<circle cx="1228.4" cy="1494.5" r="3.5" fill="#4ccb7f"/>
<circle cx="1241" cy="1494.5" r="3.5" fill="#4ccb7f"/>
<line x1="1060.9" y1="1496" x2="1060.9" y2="1199.1" stroke="#000" stroke-width="2.9"/>
<line x1="1048.4" y1="1494.5" x2="1062.4" y2="1494.5" stroke="#000" stroke-width="2.9"/>
<text x="1040.9" y="1505.9" font-size="31.5" text-anchor="end" fill="#000">0.0</text>
<line x1="1048.4" y1="1396.1" x2="1062.4" y2="1396.1" stroke="#000" stroke-width="2.9"/>
<text x="1040.9" y="1407.5" font-size="31.5" text-anchor="end" fill="#000">0.2</text>
<line x1="1048.4" y1="1297.7" x2="1062.4" y2="1297.7" stroke="#000" stroke-width="2.9"/>
<text x="1040.9" y="1309.1" font-size="31.5" text-anchor="end" fill="#000">0.4</text>
<line x1="1048.4" y1="1199.3" x2="1062.4" y2="1199.3" stroke="#000" stroke-width="2.9"/>
<text x="1040.9" y="1210.7" font-size="31.5" text-anchor="end" fill="#000">0.6</text>
<line x1="1048.4" y1="1494.5" x2="1267.5" y2="1494.5" stroke="#000" stroke-width="3.3"/>
<line x1="1092.6" y1="1494.5" x2="1092.6" y2="1506.5" stroke="#000" stroke-width="2.9"/>
<line x1="1140.5" y1="1494.5" x2="1140.5" y2="1506.5" stroke="#000" stroke-width="2.9"/>
<line x1="1187.8" y1="1494.5" x2="1187.8" y2="1506.5" stroke="#000" stroke-width="2.9"/>
<line x1="1235.1" y1="1494.5" x2="1235.1" y2="1506.5" stroke="#000" stroke-width="2.9"/>
<line x1="1091.4" y1="1227" x2="1141.4" y2="1227" stroke="#000" stroke-width="3.6"/>
<text x="1116.4" y="1227.9" font-size="25.5" text-anchor="middle" fill="#000" stroke="#000" stroke-width="0.5">***</text>
<line x1="1185.5" y1="1228.3" x2="1235.9" y2="1228.3" stroke="#000" stroke-width="3.6"/>
<text x="1210.7" y="1229.1" font-size="25.5" text-anchor="middle" fill="#000" stroke="#000" stroke-width="0.5">***</text>
<text x="1092" y="1536.3" font-size="28" font-weight="bold" text-anchor="middle" fill="#000" stroke="#000" stroke-width="0.7">+</text>
<text x="1139.9" y="1536.3" font-size="28" font-weight="bold" text-anchor="middle" fill="#000" stroke="#000" stroke-width="0.7">-</text>
<text x="1187.2" y="1536.3" font-size="28" font-weight="bold" text-anchor="middle" fill="#000" stroke="#000" stroke-width="0.7">+</text>
<text x="1234.5" y="1536.3" font-size="28" font-weight="bold" text-anchor="middle" fill="#000" stroke="#000" stroke-width="0.7">-</text>
<text x="1092" y="1568.9" font-size="28" font-weight="bold" text-anchor="middle" fill="#000" stroke="#000" stroke-width="0.7">-</text>
<text x="1139.9" y="1568.9" font-size="28" font-weight="bold" text-anchor="middle" fill="#000" stroke="#000" stroke-width="0.7">-</text>
<text x="1187.2" y="1568.9" font-size="28" font-weight="bold" text-anchor="middle" fill="#000" stroke="#000" stroke-width="0.7">+</text>
<text x="1234.5" y="1568.9" font-size="28" font-weight="bold" text-anchor="middle" fill="#000" stroke="#000" stroke-width="0.7">+</text>
<text x="1150.5" y="1152" font-size="36" font-weight="bold" text-anchor="middle" fill="#000">Fumarate (M+2)</text>
<line x1="1400" y1="1304.4" x2="1400" y2="1273.1" stroke="#2b2b2b" stroke-width="1.8"/>
<line x1="1392.5" y1="1273.1" x2="1407.5" y2="1273.1" stroke="#2b2b2b" stroke-width="1.8"/>
<rect x="1386.8" y="1304.4" width="26.5" height="190.1" fill="none" stroke="#000" stroke-width="3"/>
<circle cx="1400" cy="1269.3" r="3.5" fill="#2b2b2b"/>
<circle cx="1400" cy="1287.6" r="3.5" fill="#2b2b2b"/>
<circle cx="1400" cy="1319.7" r="3.5" fill="#2b2b2b"/>
<circle cx="1400" cy="1336.3" r="3.5" fill="#2b2b2b"/>
<line x1="1447" y1="1445.2" x2="1447" y2="1438.7" stroke="#4ccb7f" stroke-width="1.8"/>
<line x1="1439.5" y1="1438.7" x2="1454.5" y2="1438.7" stroke="#4ccb7f" stroke-width="1.8"/>
<rect x="1433.8" y="1445.2" width="26.5" height="49.3" fill="none" stroke="#000" stroke-width="3"/>
<circle cx="1440.9" cy="1439.3" r="3.5" fill="#4ccb7f"/>
<circle cx="1452.9" cy="1437.5" r="3.5" fill="#4ccb7f"/>
<circle cx="1452.9" cy="1448.7" r="3.5" fill="#4ccb7f"/>
<circle cx="1440.9" cy="1452.9" r="3.5" fill="#4ccb7f"/>
<line x1="1494.9" y1="1253.6" x2="1494.9" y2="1238.6" stroke="#2b2b2b" stroke-width="1.8"/>
<line x1="1487.4" y1="1238.6" x2="1502.4" y2="1238.6" stroke="#2b2b2b" stroke-width="1.8"/>
<rect x="1481.7" y="1253.6" width="26.5" height="240.9" fill="none" stroke="#000" stroke-width="3"/>
<circle cx="1494.9" cy="1234.4" r="3.5" fill="#2b2b2b"/>
<circle cx="1494.9" cy="1250.4" r="3.5" fill="#2b2b2b"/>
<circle cx="1494.9" cy="1256.9" r="3.5" fill="#2b2b2b"/>
<circle cx="1494.9" cy="1266.3" r="3.5" fill="#2b2b2b"/>
<line x1="1542.2" y1="1461.3" x2="1542.2" y2="1451.7" stroke="#4ccb7f" stroke-width="1.8"/>
<line x1="1534.7" y1="1451.7" x2="1549.7" y2="1451.7" stroke="#4ccb7f" stroke-width="1.8"/>
<rect x="1529" y="1461.3" width="26.5" height="33.2" fill="none" stroke="#000" stroke-width="3"/>
<circle cx="1542.2" cy="1448.4" r="3.5" fill="#4ccb7f"/>
<circle cx="1535.8" cy="1461.1" r="3.5" fill="#4ccb7f"/>
<circle cx="1548.9" cy="1463.2" r="3.5" fill="#4ccb7f"/>
<circle cx="1542.2" cy="1470.3" r="3.5" fill="#4ccb7f"/>
<line x1="1367.3" y1="1496" x2="1367.3" y2="1199.1" stroke="#000" stroke-width="2.9"/>
<line x1="1354.8" y1="1494.5" x2="1368.8" y2="1494.5" stroke="#000" stroke-width="2.9"/>
<text x="1347.3" y="1505.9" font-size="31.5" text-anchor="end" fill="#000">0.0</text>
<line x1="1354.8" y1="1435.5" x2="1368.8" y2="1435.5" stroke="#000" stroke-width="2.9"/>
<text x="1347.3" y="1446.9" font-size="31.5" text-anchor="end" fill="#000">0.2</text>
<line x1="1354.8" y1="1376.4" x2="1368.8" y2="1376.4" stroke="#000" stroke-width="2.9"/>
<text x="1347.3" y="1387.8" font-size="31.5" text-anchor="end" fill="#000">0.4</text>
<line x1="1354.8" y1="1317.4" x2="1368.8" y2="1317.4" stroke="#000" stroke-width="2.9"/>
<text x="1347.3" y="1328.8" font-size="31.5" text-anchor="end" fill="#000">0.6</text>
<line x1="1354.8" y1="1258.3" x2="1368.8" y2="1258.3" stroke="#000" stroke-width="2.9"/>
<text x="1347.3" y="1269.7" font-size="31.5" text-anchor="end" fill="#000">0.8</text>
<line x1="1354.8" y1="1199.3" x2="1368.8" y2="1199.3" stroke="#000" stroke-width="2.9"/>
<text x="1347.3" y="1210.7" font-size="31.5" text-anchor="end" fill="#000">1.0</text>
<line x1="1354.8" y1="1494.5" x2="1575.4" y2="1494.5" stroke="#000" stroke-width="3.3"/>
<line x1="1400" y1="1494.5" x2="1400" y2="1506.5" stroke="#000" stroke-width="2.9"/>
<line x1="1447" y1="1494.5" x2="1447" y2="1506.5" stroke="#000" stroke-width="2.9"/>
<line x1="1494.9" y1="1494.5" x2="1494.9" y2="1506.5" stroke="#000" stroke-width="2.9"/>
<line x1="1542.2" y1="1494.5" x2="1542.2" y2="1506.5" stroke="#000" stroke-width="2.9"/>
<line x1="1398.8" y1="1207.1" x2="1449.1" y2="1207.1" stroke="#000" stroke-width="3.6"/>
<text x="1423.9" y="1209" font-size="25.5" text-anchor="middle" fill="#000" stroke="#000" stroke-width="0.5">***</text>
<line x1="1493.8" y1="1208.8" x2="1544.7" y2="1208.8" stroke="#000" stroke-width="3.6"/>
<text x="1519.2" y="1210.6" font-size="25.5" text-anchor="middle" fill="#000" stroke="#000" stroke-width="0.5">***</text>
<text x="1399.4" y="1536.3" font-size="28" font-weight="bold" text-anchor="middle" fill="#000" stroke="#000" stroke-width="0.7">+</text>
<text x="1446.4" y="1536.3" font-size="28" font-weight="bold" text-anchor="middle" fill="#000" stroke="#000" stroke-width="0.7">-</text>
<text x="1494.3" y="1536.3" font-size="28" font-weight="bold" text-anchor="middle" fill="#000" stroke="#000" stroke-width="0.7">+</text>
<text x="1541.6" y="1536.3" font-size="28" font-weight="bold" text-anchor="middle" fill="#000" stroke="#000" stroke-width="0.7">-</text>
<text x="1399.4" y="1568.9" font-size="28" font-weight="bold" text-anchor="middle" fill="#000" stroke="#000" stroke-width="0.7">-</text>
<text x="1446.4" y="1568.9" font-size="28" font-weight="bold" text-anchor="middle" fill="#000" stroke="#000" stroke-width="0.7">-</text>
<text x="1494.3" y="1568.9" font-size="28" font-weight="bold" text-anchor="middle" fill="#000" stroke="#000" stroke-width="0.7">+</text>
<text x="1541.6" y="1568.9" font-size="28" font-weight="bold" text-anchor="middle" fill="#000" stroke="#000" stroke-width="0.7">+</text>
<text x="1465.5" y="1152" font-size="36" font-weight="bold" text-anchor="middle" fill="#000">Malate (M+2)</text>
<text x="1612.6" y="1103.8" font-size="70" font-weight="bold" fill="#000">f</text>
<text x="1675.4" y="1330.6" font-size="31" font-weight="bold" text-anchor="middle" fill="#000" transform="rotate(-90 1675.4 1330.6)" word-spacing="6">Relative Citrate (M+2)/</text>
<text x="1713.3" y="1326.5" font-size="31" font-weight="bold" text-anchor="middle" fill="#000" transform="rotate(-90 1713.3 1326.5)" word-spacing="7.3">Pyruvate (M+3)</text>
<text x="1698.3" y="1532.1" font-size="27.5" font-weight="bold" fill="#000">NADK2:</text>
<text x="1698.3" y="1564.1" font-size="27.5" font-weight="bold" fill="#000">Proline:</text>
<line x1="1830" y1="1295.1" x2="1830" y2="1260.6" stroke="#2b2b2b" stroke-width="1.8"/>
<line x1="1822.5" y1="1260.6" x2="1837.5" y2="1260.6" stroke="#2b2b2b" stroke-width="1.8"/>
<rect x="1816.8" y="1295.1" width="26.5" height="197.5" fill="none" stroke="#000" stroke-width="3"/>
<circle cx="1817.3" cy="1275.2" r="3.5" fill="#2b2b2b"/>
<circle cx="1830" cy="1280.9" r="3.5" fill="#2b2b2b"/>
<circle cx="1843.3" cy="1277.6" r="3.5" fill="#2b2b2b"/>
<circle cx="1830" cy="1347.1" r="3.5" fill="#2b2b2b"/>
<line x1="1877.6" y1="1465.3" x2="1877.6" y2="1456.1" stroke="#4ccb7f" stroke-width="1.8"/>
<line x1="1870.1" y1="1456.1" x2="1885.1" y2="1456.1" stroke="#4ccb7f" stroke-width="1.8"/>
<rect x="1864.3" y="1465.3" width="26.5" height="27.3" fill="none" stroke="#000" stroke-width="3"/>
<circle cx="1877.6" cy="1454.1" r="3.5" fill="#4ccb7f"/>
<circle cx="1877.6" cy="1463" r="3.5" fill="#4ccb7f"/>
<circle cx="1871.6" cy="1470.9" r="3.5" fill="#4ccb7f"/>
<circle cx="1884.1" cy="1470.9" r="3.5" fill="#4ccb7f"/>
<line x1="1925.6" y1="1249.9" x2="1925.6" y2="1209.6" stroke="#2b2b2b" stroke-width="1.8"/>
<line x1="1918.1" y1="1209.6" x2="1933.1" y2="1209.6" stroke="#2b2b2b" stroke-width="1.8"/>
<rect x="1912.3" y="1249.9" width="26.5" height="242.7" fill="none" stroke="#000" stroke-width="3"/>
<circle cx="1925.6" cy="1215.2" r="3.5" fill="#2b2b2b"/>
<circle cx="1919.1" cy="1234.3" r="3.5" fill="#2b2b2b"/>
<circle cx="1932.4" cy="1238.1" r="3.5" fill="#2b2b2b"/>
<circle cx="1925.6" cy="1308.6" r="3.5" fill="#2b2b2b"/>
<line x1="1973" y1="1483.5" x2="1973" y2="1482.7" stroke="#4ccb7f" stroke-width="1.8"/>
<line x1="1965.5" y1="1482.7" x2="1980.5" y2="1482.7" stroke="#4ccb7f" stroke-width="1.8"/>
<rect x="1959.8" y="1483.5" width="26.5" height="9.1" fill="none" stroke="#000" stroke-width="3"/>
<circle cx="1960.4" cy="1482.7" r="3.5" fill="#4ccb7f"/>
<circle cx="1969.2" cy="1482.7" r="3.5" fill="#4ccb7f"/>
<circle cx="1977.5" cy="1482.7" r="3.5" fill="#4ccb7f"/>
<circle cx="1986" cy="1482.7" r="3.5" fill="#4ccb7f"/>
<line x1="1798.2" y1="1494" x2="1798.2" y2="1196.2" stroke="#000" stroke-width="2.9"/>
<line x1="1785.7" y1="1492.6" x2="1799.7" y2="1492.6" stroke="#000" stroke-width="2.9"/>
<text x="1778.2" y="1504" font-size="31.5" text-anchor="end" fill="#000">0.0</text>
<line x1="1785.7" y1="1393.9" x2="1799.7" y2="1393.9" stroke="#000" stroke-width="2.9"/>
<text x="1778.2" y="1405.3" font-size="31.5" text-anchor="end" fill="#000">0.5</text>
<line x1="1785.7" y1="1295.1" x2="1799.7" y2="1295.1" stroke="#000" stroke-width="2.9"/>
<text x="1778.2" y="1306.5" font-size="31.5" text-anchor="end" fill="#000">1.0</text>
<line x1="1785.7" y1="1196.4" x2="1799.7" y2="1196.4" stroke="#000" stroke-width="2.9"/>
<text x="1778.2" y="1207.8" font-size="31.5" text-anchor="end" fill="#000">1.5</text>
<line x1="1785.7" y1="1492.6" x2="2005.5" y2="1492.6" stroke="#000" stroke-width="3.3"/>
<line x1="1830" y1="1492.6" x2="1830" y2="1504.6" stroke="#000" stroke-width="2.9"/>
<line x1="1877.6" y1="1492.6" x2="1877.6" y2="1504.6" stroke="#000" stroke-width="2.9"/>
<line x1="1925.6" y1="1492.6" x2="1925.6" y2="1504.6" stroke="#000" stroke-width="2.9"/>
<line x1="1973" y1="1492.6" x2="1973" y2="1504.6" stroke="#000" stroke-width="2.9"/>
<line x1="1830.3" y1="1242.3" x2="1879.8" y2="1242.3" stroke="#000" stroke-width="3.6"/>
<text x="1855" y="1242.6" font-size="25.5" text-anchor="middle" fill="#000" stroke="#000" stroke-width="0.5">***</text>
<line x1="1924.9" y1="1195.2" x2="1974.7" y2="1195.2" stroke="#000" stroke-width="3.6"/>
<text x="1949.8" y="1196.3" font-size="25.5" text-anchor="middle" fill="#000" stroke="#000" stroke-width="0.5">***</text>
<text x="1829.4" y="1533.9" font-size="28" font-weight="bold" text-anchor="middle" fill="#000" stroke="#000" stroke-width="0.7">+</text>
<text x="1877" y="1533.9" font-size="28" font-weight="bold" text-anchor="middle" fill="#000" stroke="#000" stroke-width="0.7">-</text>
<text x="1925" y="1533.9" font-size="28" font-weight="bold" text-anchor="middle" fill="#000" stroke="#000" stroke-width="0.7">+</text>
<text x="1972.4" y="1533.9" font-size="28" font-weight="bold" text-anchor="middle" fill="#000" stroke="#000" stroke-width="0.7">-</text>
<text x="1829.4" y="1565.9" font-size="28" font-weight="bold" text-anchor="middle" fill="#000" stroke="#000" stroke-width="0.7">-</text>
<text x="1877" y="1565.9" font-size="28" font-weight="bold" text-anchor="middle" fill="#000" stroke="#000" stroke-width="0.7">-</text>
<text x="1925" y="1565.9" font-size="28" font-weight="bold" text-anchor="middle" fill="#000" stroke="#000" stroke-width="0.7">+</text>
<text x="1972.4" y="1565.9" font-size="28" font-weight="bold" text-anchor="middle" fill="#000" stroke="#000" stroke-width="0.7">+</text>
<text x="1890.4" y="1150.1" font-size="36" font-weight="bold" text-anchor="middle" fill="#000">A549</text>
<text x="-1.7" y="1659.5" font-size="70" font-weight="bold" fill="#000">e</text>
<text x="114.5" y="1657.6" font-size="36" font-weight="bold" text-anchor="middle" fill="#000">HeLa</text>
<text x="36.9" y="1919.6" font-size="31" font-weight="bold" text-anchor="middle" fill="#000" transform="rotate(-90 36.9 1919.6)">Normalized</text>
<text x="75.6" y="1916.8" font-size="31" font-weight="bold" text-anchor="middle" fill="#000" transform="rotate(-90 75.6 1916.8)" word-spacing="5.3">Peak area (x10<tspan font-size="19" dy="-11">5</tspan><tspan dy="11">)</tspan></text>
<text x="56.8" y="2106.4" font-size="27.5" font-weight="bold" fill="#000">NADK2:</text>
<text x="56.8" y="2140" font-size="27.5" font-weight="bold" fill="#000">Proline:</text>
<line x1="187.5" y1="1911.9" x2="187.5" y2="1903.6" stroke="#2b2b2b" stroke-width="1.8"/>
<line x1="180" y1="1903.6" x2="195" y2="1903.6" stroke="#2b2b2b" stroke-width="1.8"/>
<rect x="174.2" y="1911.9" width="26.5" height="155.7" fill="none" stroke="#000" stroke-width="3"/>
<circle cx="175.2" cy="1907.1" r="3.5" fill="#2b2b2b"/>
<circle cx="187.7" cy="1907.1" r="3.5" fill="#2b2b2b"/>
<circle cx="199.7" cy="1907.1" r="3.5" fill="#2b2b2b"/>
<circle cx="187.7" cy="1921.3" r="3.5" fill="#2b2b2b"/>
<line x1="232.9" y1="1905.9" x2="232.9" y2="1851.4" stroke="#4ccb7f" stroke-width="1.8"/>
<line x1="225.4" y1="1851.4" x2="240.4" y2="1851.4" stroke="#4ccb7f" stroke-width="1.8"/>
<rect x="219.7" y="1905.9" width="26.5" height="161.7" fill="none" stroke="#000" stroke-width="3"/>
<circle cx="232.9" cy="1853.2" r="3.5" fill="#4ccb7f"/>
<circle cx="232.9" cy="1865.7" r="3.5" fill="#4ccb7f"/>
<circle cx="232.9" cy="1937.3" r="3.5" fill="#4ccb7f"/>
<circle cx="232.9" cy="1963.4" r="3.5" fill="#4ccb7f"/>
<line x1="278.7" y1="1932" x2="278.7" y2="1890.5" stroke="#2b2b2b" stroke-width="1.8"/>
<line x1="271.2" y1="1890.5" x2="286.2" y2="1890.5" stroke="#2b2b2b" stroke-width="1.8"/>
<rect x="265.4" y="1932" width="26.5" height="135.6" fill="none" stroke="#000" stroke-width="3"/>
<circle cx="278.7" cy="1878.7" r="3.5" fill="#2b2b2b"/>
<circle cx="278.7" cy="1927.8" r="3.5" fill="#2b2b2b"/>
<circle cx="278.7" cy="1942.1" r="3.5" fill="#2b2b2b"/>
<circle cx="278.7" cy="1977" r="3.5" fill="#2b2b2b"/>
<line x1="324" y1="1827.2" x2="324" y2="1797" stroke="#4ccb7f" stroke-width="1.8"/>
<line x1="316.5" y1="1797" x2="331.5" y2="1797" stroke="#4ccb7f" stroke-width="1.8"/>
<rect x="310.8" y="1827.2" width="26.5" height="240.4" fill="none" stroke="#000" stroke-width="3"/>
<circle cx="324" cy="1795.8" r="3.5" fill="#4ccb7f"/>
<circle cx="324" cy="1805.8" r="3.5" fill="#4ccb7f"/>
<circle cx="324" cy="1848.5" r="3.5" fill="#4ccb7f"/>
<circle cx="324" cy="1854.4" r="3.5" fill="#4ccb7f"/>
<line x1="157.7" y1="2069" x2="157.7" y2="1771.3" stroke="#000" stroke-width="2.9"/>
<line x1="145.2" y1="2067.6" x2="159.1" y2="2067.6" stroke="#000" stroke-width="2.9"/>
<text x="137.7" y="2079" font-size="31.5" text-anchor="end" fill="#000">0</text>
<line x1="145.2" y1="2008.4" x2="159.1" y2="2008.4" stroke="#000" stroke-width="2.9"/>
<text x="137.7" y="2019.8" font-size="31.5" text-anchor="end" fill="#000">1</text>
<line x1="145.2" y1="1949.2" x2="159.1" y2="1949.2" stroke="#000" stroke-width="2.9"/>
<text x="137.7" y="1960.6" font-size="31.5" text-anchor="end" fill="#000">2</text>
<line x1="145.2" y1="1889.9" x2="159.1" y2="1889.9" stroke="#000" stroke-width="2.9"/>
<text x="137.7" y="1901.3" font-size="31.5" text-anchor="end" fill="#000">3</text>
<line x1="145.2" y1="1830.7" x2="159.1" y2="1830.7" stroke="#000" stroke-width="2.9"/>
<text x="137.7" y="1842.1" font-size="31.5" text-anchor="end" fill="#000">4</text>
<line x1="145.2" y1="1771.5" x2="159.1" y2="1771.5" stroke="#000" stroke-width="2.9"/>
<text x="137.7" y="1782.9" font-size="31.5" text-anchor="end" fill="#000">5</text>
<line x1="145.2" y1="2067.6" x2="355" y2="2067.6" stroke="#000" stroke-width="3.3"/>
<line x1="187.5" y1="2067.6" x2="187.5" y2="2079.6" stroke="#000" stroke-width="2.9"/>
<line x1="232.9" y1="2067.6" x2="232.9" y2="2079.6" stroke="#000" stroke-width="2.9"/>
<line x1="278.7" y1="2067.6" x2="278.7" y2="2079.6" stroke="#000" stroke-width="2.9"/>
<line x1="324" y1="2067.6" x2="324" y2="2079.6" stroke="#000" stroke-width="2.9"/>
<line x1="274.1" y1="1779.7" x2="324.7" y2="1779.7" stroke="#000" stroke-width="3.6"/>
<text x="299.2" y="1781.3" font-size="25.5" text-anchor="middle" fill="#000" stroke="#000" stroke-width="0.5">*</text>
<text x="186.9" y="2108.2" font-size="28" font-weight="bold" text-anchor="middle" fill="#000" stroke="#000" stroke-width="0.7">+</text>
<text x="232.3" y="2108.2" font-size="28" font-weight="bold" text-anchor="middle" fill="#000" stroke="#000" stroke-width="0.7">-</text>
<text x="278.1" y="2108.2" font-size="28" font-weight="bold" text-anchor="middle" fill="#000" stroke="#000" stroke-width="0.7">+</text>
<text x="323.4" y="2108.2" font-size="28" font-weight="bold" text-anchor="middle" fill="#000" stroke="#000" stroke-width="0.7">-</text>
<text x="186.9" y="2141.8" font-size="28" font-weight="bold" text-anchor="middle" fill="#000" stroke="#000" stroke-width="0.7">-</text>
<text x="232.3" y="2141.8" font-size="28" font-weight="bold" text-anchor="middle" fill="#000" stroke="#000" stroke-width="0.7">-</text>
<text x="278.1" y="2141.8" font-size="28" font-weight="bold" text-anchor="middle" fill="#000" stroke="#000" stroke-width="0.7">+</text>
<text x="323.4" y="2141.8" font-size="28" font-weight="bold" text-anchor="middle" fill="#000" stroke="#000" stroke-width="0.7">+</text>
<text x="261.6" y="1725.1" font-size="36" font-weight="bold" text-anchor="middle" fill="#000">Pyruvate (M+3)</text>
<line x1="496.9" y1="1849.6" x2="496.9" y2="1825.2" stroke="#2b2b2b" stroke-width="1.8"/>
<line x1="489.4" y1="1825.2" x2="504.4" y2="1825.2" stroke="#2b2b2b" stroke-width="1.8"/>
<rect x="483.6" y="1849.6" width="26.5" height="217" fill="none" stroke="#000" stroke-width="3"/>
<circle cx="496.9" cy="1820.4" r="3.5" fill="#2b2b2b"/>
<circle cx="496.9" cy="1840.5" r="3.5" fill="#2b2b2b"/>
<circle cx="496.9" cy="1861.7" r="3.5" fill="#2b2b2b"/>
<circle cx="496.9" cy="1875.3" r="3.5" fill="#2b2b2b"/>
<line x1="542.6" y1="1987" x2="542.6" y2="1974.9" stroke="#4ccb7f" stroke-width="1.8"/>
<line x1="535.1" y1="1974.9" x2="550.1" y2="1974.9" stroke="#4ccb7f" stroke-width="1.8"/>
<rect x="529.4" y="1987" width="26.5" height="79.6" fill="none" stroke="#000" stroke-width="3"/>
<circle cx="536" cy="1976.7" r="3.5" fill="#4ccb7f"/>
<circle cx="548.6" cy="1976.4" r="3.5" fill="#4ccb7f"/>
<circle cx="548.6" cy="1994.1" r="3.5" fill="#4ccb7f"/>
<circle cx="536" cy="1998.8" r="3.5" fill="#4ccb7f"/>
<line x1="588.2" y1="1852.9" x2="588.2" y2="1814.5" stroke="#2b2b2b" stroke-width="1.8"/>
<line x1="580.7" y1="1814.5" x2="595.7" y2="1814.5" stroke="#2b2b2b" stroke-width="1.8"/>
<rect x="575" y="1852.9" width="26.5" height="213.7" fill="none" stroke="#000" stroke-width="3"/>
<circle cx="588.2" cy="1808.7" r="3.5" fill="#2b2b2b"/>
<circle cx="588.2" cy="1836.7" r="3.5" fill="#2b2b2b"/>
<circle cx="588.2" cy="1870" r="3.5" fill="#2b2b2b"/>
<circle cx="588.2" cy="1894.7" r="3.5" fill="#2b2b2b"/>
<line x1="633.5" y1="2009.4" x2="633.5" y2="2005.6" stroke="#4ccb7f" stroke-width="1.8"/>
<line x1="626" y1="2005.6" x2="641" y2="2005.6" stroke="#4ccb7f" stroke-width="1.8"/>
<rect x="620.2" y="2009.4" width="26.5" height="57.2" fill="none" stroke="#000" stroke-width="3"/>
<circle cx="621.1" cy="2006.5" r="3.5" fill="#4ccb7f"/>
<circle cx="632.6" cy="2007.1" r="3.5" fill="#4ccb7f"/>
<circle cx="645.3" cy="2010.3" r="3.5" fill="#4ccb7f"/>
<circle cx="621.1" cy="2013.5" r="3.5" fill="#4ccb7f"/>
<line x1="466.7" y1="2068" x2="466.7" y2="1771.6" stroke="#000" stroke-width="2.9"/>
<line x1="454.2" y1="2066.6" x2="468.1" y2="2066.6" stroke="#000" stroke-width="2.9"/>
<text x="446.7" y="2078" font-size="31.5" text-anchor="end" fill="#000">0</text>
<line x1="454.2" y1="2007.6" x2="468.1" y2="2007.6" stroke="#000" stroke-width="2.9"/>
<text x="446.7" y="2019" font-size="31.5" text-anchor="end" fill="#000">20</text>
<line x1="454.2" y1="1948.7" x2="468.1" y2="1948.7" stroke="#000" stroke-width="2.9"/>
<text x="446.7" y="1960.1" font-size="31.5" text-anchor="end" fill="#000">40</text>
<line x1="454.2" y1="1889.7" x2="468.1" y2="1889.7" stroke="#000" stroke-width="2.9"/>
<text x="446.7" y="1901.1" font-size="31.5" text-anchor="end" fill="#000">60</text>
<line x1="454.2" y1="1830.8" x2="468.1" y2="1830.8" stroke="#000" stroke-width="2.9"/>
<text x="446.7" y="1842.2" font-size="31.5" text-anchor="end" fill="#000">80</text>
<line x1="454.2" y1="1771.8" x2="468.1" y2="1771.8" stroke="#000" stroke-width="2.9"/>
<text x="446.7" y="1783.2" font-size="31.5" text-anchor="end" fill="#000">100</text>
<line x1="454.2" y1="2066.6" x2="664.2" y2="2066.6" stroke="#000" stroke-width="3.3"/>
<line x1="496.9" y1="2066.6" x2="496.9" y2="2078.6" stroke="#000" stroke-width="2.9"/>
<line x1="542.6" y1="2066.6" x2="542.6" y2="2078.6" stroke="#000" stroke-width="2.9"/>
<line x1="588.2" y1="2066.6" x2="588.2" y2="2078.6" stroke="#000" stroke-width="2.9"/>
<line x1="633.5" y1="2066.6" x2="633.5" y2="2078.6" stroke="#000" stroke-width="2.9"/>
<line x1="494" y1="1789.2" x2="544.4" y2="1789.2" stroke="#000" stroke-width="3.6"/>
<text x="519.2" y="1791.6" font-size="25.5" text-anchor="middle" fill="#000" stroke="#000" stroke-width="0.5">***</text>
<line x1="588.5" y1="1789.2" x2="639" y2="1789.2" stroke="#000" stroke-width="3.6"/>
<text x="613.8" y="1791.6" font-size="25.5" text-anchor="middle" fill="#000" stroke="#000" stroke-width="0.5">***</text>
<text x="496.3" y="2107.2" font-size="28" font-weight="bold" text-anchor="middle" fill="#000" stroke="#000" stroke-width="0.7">+</text>
<text x="542" y="2107.2" font-size="28" font-weight="bold" text-anchor="middle" fill="#000" stroke="#000" stroke-width="0.7">-</text>
<text x="587.6" y="2107.2" font-size="28" font-weight="bold" text-anchor="middle" fill="#000" stroke="#000" stroke-width="0.7">+</text>
<text x="632.9" y="2107.2" font-size="28" font-weight="bold" text-anchor="middle" fill="#000" stroke="#000" stroke-width="0.7">-</text>
<text x="496.3" y="2140.8" font-size="28" font-weight="bold" text-anchor="middle" fill="#000" stroke="#000" stroke-width="0.7">-</text>
<text x="542" y="2140.8" font-size="28" font-weight="bold" text-anchor="middle" fill="#000" stroke="#000" stroke-width="0.7">-</text>
<text x="587.6" y="2140.8" font-size="28" font-weight="bold" text-anchor="middle" fill="#000" stroke="#000" stroke-width="0.7">+</text>
<text x="632.9" y="2140.8" font-size="28" font-weight="bold" text-anchor="middle" fill="#000" stroke="#000" stroke-width="0.7">+</text>
<text x="568.6" y="1725.2" font-size="36" font-weight="bold" text-anchor="middle" fill="#000">Citrate (M+2)</text>
<line x1="789" y1="1864.1" x2="789" y2="1851.1" stroke="#2b2b2b" stroke-width="1.8"/>
<line x1="781.5" y1="1851.1" x2="796.5" y2="1851.1" stroke="#2b2b2b" stroke-width="1.8"/>
<rect x="775.8" y="1864.1" width="26.5" height="203.5" fill="none" stroke="#000" stroke-width="3"/>
<circle cx="789" cy="1845.2" r="3.5" fill="#2b2b2b"/>
<circle cx="776.6" cy="1872.8" r="3.5" fill="#2b2b2b"/>
<circle cx="789" cy="1868.8" r="3.5" fill="#2b2b2b"/>
<circle cx="801.4" cy="1867.8" r="3.5" fill="#2b2b2b"/>
<line x1="836.8" y1="1974.1" x2="836.8" y2="1961.3" stroke="#4ccb7f" stroke-width="1.8"/>
<line x1="829.3" y1="1961.3" x2="844.3" y2="1961.3" stroke="#4ccb7f" stroke-width="1.8"/>
<rect x="823.5" y="1974.1" width="26.5" height="93.5" fill="none" stroke="#000" stroke-width="3"/>
<circle cx="836.8" cy="1961.9" r="3.5" fill="#4ccb7f"/>
<circle cx="836.8" cy="1968.2" r="3.5" fill="#4ccb7f"/>
<circle cx="836.8" cy="1975.1" r="3.5" fill="#4ccb7f"/>
<circle cx="836.8" cy="1988.9" r="3.5" fill="#4ccb7f"/>
<line x1="884" y1="1874.7" x2="884" y2="1847.2" stroke="#2b2b2b" stroke-width="1.8"/>
<line x1="876.5" y1="1847.2" x2="891.5" y2="1847.2" stroke="#2b2b2b" stroke-width="1.8"/>
<rect x="870.8" y="1874.7" width="26.5" height="192.9" fill="none" stroke="#000" stroke-width="3"/>
<circle cx="884" cy="1843.2" r="3.5" fill="#2b2b2b"/>
<circle cx="877.5" cy="1872.8" r="3.5" fill="#2b2b2b"/>
<circle cx="889.7" cy="1872.8" r="3.5" fill="#2b2b2b"/>
<circle cx="884" cy="1905" r="3.5" fill="#2b2b2b"/>
<line x1="930.7" y1="1945.6" x2="930.7" y2="1934.8" stroke="#4ccb7f" stroke-width="1.8"/>
<line x1="923.2" y1="1934.8" x2="938.2" y2="1934.8" stroke="#4ccb7f" stroke-width="1.8"/>
<rect x="917.5" y="1945.6" width="26.5" height="122" fill="none" stroke="#000" stroke-width="3"/>
<circle cx="930.7" cy="1931.8" r="3.5" fill="#4ccb7f"/>
<circle cx="924.7" cy="1946.2" r="3.5" fill="#4ccb7f"/>
<circle cx="937.4" cy="1949.5" r="3.5" fill="#4ccb7f"/>
<circle cx="924.7" cy="1953.5" r="3.5" fill="#4ccb7f"/>
<line x1="756.7" y1="2069" x2="756.7" y2="1772.2" stroke="#000" stroke-width="2.9"/>
<line x1="744.2" y1="2067.6" x2="758.2" y2="2067.6" stroke="#000" stroke-width="2.9"/>
<text x="736.7" y="2079" font-size="31.5" text-anchor="end" fill="#000">0.0</text>
<line x1="744.2" y1="1969.2" x2="758.2" y2="1969.2" stroke="#000" stroke-width="2.9"/>
<text x="736.7" y="1980.6" font-size="31.5" text-anchor="end" fill="#000">0.5</text>
<line x1="744.2" y1="1870.8" x2="758.2" y2="1870.8" stroke="#000" stroke-width="2.9"/>
<text x="736.7" y="1882.2" font-size="31.5" text-anchor="end" fill="#000">1.0</text>
<line x1="744.2" y1="1772.4" x2="758.2" y2="1772.4" stroke="#000" stroke-width="2.9"/>
<text x="736.7" y="1783.8" font-size="31.5" text-anchor="end" fill="#000">1.5</text>
<line x1="744.2" y1="2067.6" x2="963.6" y2="2067.6" stroke="#000" stroke-width="3.3"/>
<line x1="789" y1="2067.6" x2="789" y2="2079.6" stroke="#000" stroke-width="2.9"/>
<line x1="836.8" y1="2067.6" x2="836.8" y2="2079.6" stroke="#000" stroke-width="2.9"/>
<line x1="884" y1="2067.6" x2="884" y2="2079.6" stroke="#000" stroke-width="2.9"/>
<line x1="930.7" y1="2067.6" x2="930.7" y2="2079.6" stroke="#000" stroke-width="2.9"/>
<line x1="787.6" y1="1823.3" x2="837.6" y2="1823.3" stroke="#000" stroke-width="3.6"/>
<text x="812.6" y="1824.1" font-size="25.5" text-anchor="middle" fill="#000" stroke="#000" stroke-width="0.5">***</text>
<line x1="881.7" y1="1823.9" x2="931.7" y2="1823.9" stroke="#000" stroke-width="3.6"/>
<text x="906.7" y="1824.1" font-size="25.5" text-anchor="middle" fill="#000" stroke="#000" stroke-width="0.5">***</text>
<text x="788.4" y="2108.2" font-size="28" font-weight="bold" text-anchor="middle" fill="#000" stroke="#000" stroke-width="0.7">+</text>
<text x="836.2" y="2108.2" font-size="28" font-weight="bold" text-anchor="middle" fill="#000" stroke="#000" stroke-width="0.7">-</text>
<text x="883.4" y="2108.2" font-size="28" font-weight="bold" text-anchor="middle" fill="#000" stroke="#000" stroke-width="0.7">+</text>
<text x="930.1" y="2108.2" font-size="28" font-weight="bold" text-anchor="middle" fill="#000" stroke="#000" stroke-width="0.7">-</text>
<text x="788.4" y="2141.8" font-size="28" font-weight="bold" text-anchor="middle" fill="#000" stroke="#000" stroke-width="0.7">-</text>
<text x="836.2" y="2141.8" font-size="28" font-weight="bold" text-anchor="middle" fill="#000" stroke="#000" stroke-width="0.7">-</text>
<text x="883.4" y="2141.8" font-size="28" font-weight="bold" text-anchor="middle" fill="#000" stroke="#000" stroke-width="0.7">+</text>
<text x="930.1" y="2141.8" font-size="28" font-weight="bold" text-anchor="middle" fill="#000" stroke="#000" stroke-width="0.7">+</text>
<text x="852.8" y="1726.2" font-size="36" font-weight="bold" text-anchor="middle" fill="#000">α-KG (M+2)</text>
<line x1="1092.6" y1="1877.9" x2="1092.6" y2="1855.4" stroke="#2b2b2b" stroke-width="1.8"/>
<line x1="1085.1" y1="1855.4" x2="1100.1" y2="1855.4" stroke="#2b2b2b" stroke-width="1.8"/>
<rect x="1079.3" y="1877.9" width="26.5" height="190.8" fill="none" stroke="#000" stroke-width="3"/>
<circle cx="1092.6" cy="1845.1" r="3.5" fill="#2b2b2b"/>
<circle cx="1080.4" cy="1888.8" r="3.5" fill="#2b2b2b"/>
<circle cx="1092.6" cy="1887.3" r="3.5" fill="#2b2b2b"/>
<circle cx="1105.7" cy="1887.3" r="3.5" fill="#2b2b2b"/>
<line x1="1140.5" y1="2014.1" x2="1140.5" y2="2009.5" stroke="#4ccb7f" stroke-width="1.8"/>
<line x1="1133" y1="2009.5" x2="1148" y2="2009.5" stroke="#4ccb7f" stroke-width="1.8"/>
<rect x="1127.2" y="2014.1" width="26.5" height="54.6" fill="none" stroke="#000" stroke-width="3"/>
<circle cx="1152.7" cy="2008.2" r="3.5" fill="#4ccb7f"/>
<circle cx="1139.7" cy="2012" r="3.5" fill="#4ccb7f"/>
<circle cx="1152.7" cy="2014.1" r="3.5" fill="#4ccb7f"/>
<circle cx="1127.1" cy="2017.2" r="3.5" fill="#4ccb7f"/>
<line x1="1187.8" y1="1879.1" x2="1187.8" y2="1856.5" stroke="#2b2b2b" stroke-width="1.8"/>
<line x1="1180.3" y1="1856.5" x2="1195.3" y2="1856.5" stroke="#2b2b2b" stroke-width="1.8"/>
<rect x="1174.5" y="1879.1" width="26.5" height="189.6" fill="none" stroke="#000" stroke-width="3"/>
<circle cx="1187.8" cy="1850.3" r="3.5" fill="#2b2b2b"/>
<circle cx="1187.8" cy="1871.7" r="3.5" fill="#2b2b2b"/>
<circle cx="1187.8" cy="1892.5" r="3.5" fill="#2b2b2b"/>
<circle cx="1187.8" cy="1899.1" r="3.5" fill="#2b2b2b"/>
<line x1="1235.1" y1="2017.2" x2="1235.1" y2="2008.2" stroke="#4ccb7f" stroke-width="1.8"/>
<line x1="1227.6" y1="2008.2" x2="1242.6" y2="2008.2" stroke="#4ccb7f" stroke-width="1.8"/>
<rect x="1221.8" y="2017.2" width="26.5" height="51.5" fill="none" stroke="#000" stroke-width="3"/>
<circle cx="1222.1" cy="2010.9" r="3.5" fill="#4ccb7f"/>
<circle cx="1234.7" cy="2013" r="3.5" fill="#4ccb7f"/>
<circle cx="1247.3" cy="2012" r="3.5" fill="#4ccb7f"/>
<circle cx="1234.7" cy="2025.8" r="3.5" fill="#4ccb7f"/>
<line x1="1060.9" y1="2070.1" x2="1060.9" y2="1772.3" stroke="#000" stroke-width="2.9"/>
<line x1="1048.4" y1="2068.7" x2="1062.4" y2="2068.7" stroke="#000" stroke-width="2.9"/>
<text x="1040.9" y="2080.1" font-size="31.5" text-anchor="end" fill="#000">0</text>
<line x1="1048.4" y1="1994.6" x2="1062.4" y2="1994.6" stroke="#000" stroke-width="2.9"/>
<text x="1040.9" y="2006.1" font-size="31.5" text-anchor="end" fill="#000">1</text>
<line x1="1048.4" y1="1920.6" x2="1062.4" y2="1920.6" stroke="#000" stroke-width="2.9"/>
<text x="1040.9" y="1932" font-size="31.5" text-anchor="end" fill="#000">2</text>
<line x1="1048.4" y1="1846.5" x2="1062.4" y2="1846.5" stroke="#000" stroke-width="2.9"/>
<text x="1040.9" y="1858" font-size="31.5" text-anchor="end" fill="#000">3</text>
<line x1="1048.4" y1="1772.5" x2="1062.4" y2="1772.5" stroke="#000" stroke-width="2.9"/>
<text x="1040.9" y="1783.9" font-size="31.5" text-anchor="end" fill="#000">4</text>
<line x1="1048.4" y1="2068.7" x2="1267.5" y2="2068.7" stroke="#000" stroke-width="3.3"/>
<line x1="1092.6" y1="2068.7" x2="1092.6" y2="2080.7" stroke="#000" stroke-width="2.9"/>
<line x1="1140.5" y1="2068.7" x2="1140.5" y2="2080.7" stroke="#000" stroke-width="2.9"/>
<line x1="1187.8" y1="2068.7" x2="1187.8" y2="2080.7" stroke="#000" stroke-width="2.9"/>
<line x1="1235.1" y1="2068.7" x2="1235.1" y2="2080.7" stroke="#000" stroke-width="2.9"/>
<line x1="1091.4" y1="1800.8" x2="1141.4" y2="1800.8" stroke="#000" stroke-width="3.6"/>
<text x="1116.4" y="1802.1" font-size="25.5" text-anchor="middle" fill="#000" stroke="#000" stroke-width="0.5">***</text>
<line x1="1185.5" y1="1801.9" x2="1235.9" y2="1801.9" stroke="#000" stroke-width="3.6"/>
<text x="1210.7" y="1802.1" font-size="25.5" text-anchor="middle" fill="#000" stroke="#000" stroke-width="0.5">***</text>
<text x="1092" y="2109.3" font-size="28" font-weight="bold" text-anchor="middle" fill="#000" stroke="#000" stroke-width="0.7">+</text>
<text x="1139.9" y="2109.3" font-size="28" font-weight="bold" text-anchor="middle" fill="#000" stroke="#000" stroke-width="0.7">-</text>
<text x="1187.2" y="2109.3" font-size="28" font-weight="bold" text-anchor="middle" fill="#000" stroke="#000" stroke-width="0.7">+</text>
<text x="1234.5" y="2109.3" font-size="28" font-weight="bold" text-anchor="middle" fill="#000" stroke="#000" stroke-width="0.7">-</text>
<text x="1092" y="2142.9" font-size="28" font-weight="bold" text-anchor="middle" fill="#000" stroke="#000" stroke-width="0.7">-</text>
<text x="1139.9" y="2142.9" font-size="28" font-weight="bold" text-anchor="middle" fill="#000" stroke="#000" stroke-width="0.7">-</text>
<text x="1187.2" y="2142.9" font-size="28" font-weight="bold" text-anchor="middle" fill="#000" stroke="#000" stroke-width="0.7">+</text>
<text x="1234.5" y="2142.9" font-size="28" font-weight="bold" text-anchor="middle" fill="#000" stroke="#000" stroke-width="0.7">+</text>
<text x="1150.5" y="1725.2" font-size="36" font-weight="bold" text-anchor="middle" fill="#000">Fumarate (M+2)</text>
<line x1="1400" y1="1872.1" x2="1400" y2="1832.6" stroke="#2b2b2b" stroke-width="1.8"/>
<line x1="1392.5" y1="1832.6" x2="1407.5" y2="1832.6" stroke="#2b2b2b" stroke-width="1.8"/>
<rect x="1386.8" y="1872.1" width="26.5" height="196.2" fill="none" stroke="#000" stroke-width="3"/>
<circle cx="1400" cy="1816.4" r="3.5" fill="#2b2b2b"/>
<circle cx="1400" cy="1878.5" r="3.5" fill="#2b2b2b"/>
<circle cx="1400" cy="1894.3" r="3.5" fill="#2b2b2b"/>
<circle cx="1400" cy="1902.2" r="3.5" fill="#2b2b2b"/>
<line x1="1447" y1="2024.9" x2="1447" y2="2020.5" stroke="#4ccb7f" stroke-width="1.8"/>
<line x1="1439.5" y1="2020.5" x2="1454.5" y2="2020.5" stroke="#4ccb7f" stroke-width="1.8"/>
<rect x="1433.8" y="2024.9" width="26.5" height="43.4" fill="none" stroke="#000" stroke-width="3"/>
<circle cx="1434" cy="2020.5" r="3.5" fill="#4ccb7f"/>
<circle cx="1446.5" cy="2021.5" r="3.5" fill="#4ccb7f"/>
<circle cx="1460.2" cy="2025.9" r="3.5" fill="#4ccb7f"/>
<circle cx="1434" cy="2031.8" r="3.5" fill="#4ccb7f"/>
<line x1="1494.9" y1="1854.8" x2="1494.9" y2="1827.7" stroke="#2b2b2b" stroke-width="1.8"/>
<line x1="1487.4" y1="1827.7" x2="1502.4" y2="1827.7" stroke="#2b2b2b" stroke-width="1.8"/>
<rect x="1481.7" y="1854.8" width="26.5" height="213.5" fill="none" stroke="#000" stroke-width="3"/>
<circle cx="1494.9" cy="1823.8" r="3.5" fill="#2b2b2b"/>
<circle cx="1488.6" cy="1854.3" r="3.5" fill="#2b2b2b"/>
<circle cx="1501.2" cy="1857.8" r="3.5" fill="#2b2b2b"/>
<circle cx="1494.9" cy="1888.4" r="3.5" fill="#2b2b2b"/>
<line x1="1542.2" y1="2026.6" x2="1542.2" y2="2020.5" stroke="#4ccb7f" stroke-width="1.8"/>
<line x1="1534.7" y1="2020.5" x2="1549.7" y2="2020.5" stroke="#4ccb7f" stroke-width="1.8"/>
<rect x="1529" y="2026.6" width="26.5" height="41.7" fill="none" stroke="#000" stroke-width="3"/>
<circle cx="1535.8" cy="2021" r="3.5" fill="#4ccb7f"/>
<circle cx="1548.9" cy="2021" r="3.5" fill="#4ccb7f"/>
<circle cx="1535.8" cy="2029.8" r="3.5" fill="#4ccb7f"/>
<circle cx="1548.9" cy="2029.8" r="3.5" fill="#4ccb7f"/>
<line x1="1367.3" y1="2069.8" x2="1367.3" y2="1772.3" stroke="#000" stroke-width="2.9"/>
<line x1="1354.8" y1="2068.3" x2="1368.8" y2="2068.3" stroke="#000" stroke-width="2.9"/>
<text x="1347.3" y="2079.7" font-size="31.5" text-anchor="end" fill="#000">0</text>
<line x1="1354.8" y1="1969.7" x2="1368.8" y2="1969.7" stroke="#000" stroke-width="2.9"/>
<text x="1347.3" y="1981.1" font-size="31.5" text-anchor="end" fill="#000">2</text>
<line x1="1354.8" y1="1871.1" x2="1368.8" y2="1871.1" stroke="#000" stroke-width="2.9"/>
<text x="1347.3" y="1882.5" font-size="31.5" text-anchor="end" fill="#000">4</text>
<line x1="1354.8" y1="1772.5" x2="1368.8" y2="1772.5" stroke="#000" stroke-width="2.9"/>
<text x="1347.3" y="1783.9" font-size="31.5" text-anchor="end" fill="#000">6</text>
<line x1="1354.8" y1="2068.3" x2="1575.4" y2="2068.3" stroke="#000" stroke-width="3.3"/>
<line x1="1400" y1="2068.3" x2="1400" y2="2080.3" stroke="#000" stroke-width="2.9"/>
<line x1="1447" y1="2068.3" x2="1447" y2="2080.3" stroke="#000" stroke-width="2.9"/>
<line x1="1494.9" y1="2068.3" x2="1494.9" y2="2080.3" stroke="#000" stroke-width="2.9"/>
<line x1="1542.2" y1="2068.3" x2="1542.2" y2="2080.3" stroke="#000" stroke-width="2.9"/>
<line x1="1398.8" y1="1780.9" x2="1449.1" y2="1780.9" stroke="#000" stroke-width="3.6"/>
<text x="1423.9" y="1782.1" font-size="25.5" text-anchor="middle" fill="#000" stroke="#000" stroke-width="0.5">***</text>
<line x1="1493.8" y1="1782.5" x2="1544.7" y2="1782.5" stroke="#000" stroke-width="3.6"/>
<text x="1519.2" y="1782.1" font-size="25.5" text-anchor="middle" fill="#000" stroke="#000" stroke-width="0.5">***</text>
<text x="1399.4" y="2108.9" font-size="28" font-weight="bold" text-anchor="middle" fill="#000" stroke="#000" stroke-width="0.7">+</text>
<text x="1446.4" y="2108.9" font-size="28" font-weight="bold" text-anchor="middle" fill="#000" stroke="#000" stroke-width="0.7">-</text>
<text x="1494.3" y="2108.9" font-size="28" font-weight="bold" text-anchor="middle" fill="#000" stroke="#000" stroke-width="0.7">+</text>
<text x="1541.6" y="2108.9" font-size="28" font-weight="bold" text-anchor="middle" fill="#000" stroke="#000" stroke-width="0.7">-</text>
<text x="1399.4" y="2142.5" font-size="28" font-weight="bold" text-anchor="middle" fill="#000" stroke="#000" stroke-width="0.7">-</text>
<text x="1446.4" y="2142.5" font-size="28" font-weight="bold" text-anchor="middle" fill="#000" stroke="#000" stroke-width="0.7">-</text>
<text x="1494.3" y="2142.5" font-size="28" font-weight="bold" text-anchor="middle" fill="#000" stroke="#000" stroke-width="0.7">+</text>
<text x="1541.6" y="2142.5" font-size="28" font-weight="bold" text-anchor="middle" fill="#000" stroke="#000" stroke-width="0.7">+</text>
<text x="1465.5" y="1725.2" font-size="36" font-weight="bold" text-anchor="middle" fill="#000">Malate (M+2)</text>
<text x="1612.2" y="1658.9" font-size="70" font-weight="bold" fill="#000">g</text>
<text x="1675.4" y="1905.6" font-size="31" font-weight="bold" text-anchor="middle" fill="#000" transform="rotate(-90 1675.4 1905.6)" word-spacing="6">Relative Citrate (M+2)/</text>
<text x="1713.3" y="1901.5" font-size="31" font-weight="bold" text-anchor="middle" fill="#000" transform="rotate(-90 1713.3 1901.5)" word-spacing="7.3">Pyruvate (M+3)</text>
<text x="1698.3" y="2106.3" font-size="27.5" font-weight="bold" fill="#000">NADK2:</text>
<text x="1698.3" y="2138.8" font-size="27.5" font-weight="bold" fill="#000">Proline:</text>
<line x1="1830" y1="1871.3" x2="1830" y2="1853.6" stroke="#2b2b2b" stroke-width="1.8"/>
<line x1="1822.5" y1="1853.6" x2="1837.5" y2="1853.6" stroke="#2b2b2b" stroke-width="1.8"/>
<rect x="1816.8" y="1871.3" width="26.5" height="195.5" fill="none" stroke="#000" stroke-width="3"/>
<circle cx="1830" cy="1847.3" r="3.5" fill="#2b2b2b"/>
<circle cx="1830" cy="1866.6" r="3.5" fill="#2b2b2b"/>
<circle cx="1823.7" cy="1884.9" r="3.5" fill="#2b2b2b"/>
<circle cx="1836.2" cy="1880.8" r="3.5" fill="#2b2b2b"/>
<line x1="1877.6" y1="1990.2" x2="1877.6" y2="1957.1" stroke="#4ccb7f" stroke-width="1.8"/>
<line x1="1870.1" y1="1957.1" x2="1885.1" y2="1957.1" stroke="#4ccb7f" stroke-width="1.8"/>
<rect x="1864.3" y="1990.2" width="26.5" height="76.6" fill="none" stroke="#000" stroke-width="3"/>
<circle cx="1877.6" cy="1943.6" r="3.5" fill="#4ccb7f"/>
<circle cx="1877.6" cy="1991.8" r="3.5" fill="#4ccb7f"/>
<circle cx="1877.6" cy="2002.8" r="3.5" fill="#4ccb7f"/>
<circle cx="1877.6" cy="2017.8" r="3.5" fill="#4ccb7f"/>
<line x1="1925.6" y1="1836.5" x2="1925.6" y2="1797.1" stroke="#2b2b2b" stroke-width="1.8"/>
<line x1="1918.1" y1="1797.1" x2="1933.1" y2="1797.1" stroke="#2b2b2b" stroke-width="1.8"/>
<rect x="1912.3" y="1836.5" width="26.5" height="230.3" fill="none" stroke="#000" stroke-width="3"/>
<circle cx="1925.6" cy="1797.7" r="3.5" fill="#2b2b2b"/>
<circle cx="1925.6" cy="1805.8" r="3.5" fill="#2b2b2b"/>
<circle cx="1925.6" cy="1866" r="3.5" fill="#2b2b2b"/>
<circle cx="1925.6" cy="1872.5" r="3.5" fill="#2b2b2b"/>
<line x1="1973" y1="2032.9" x2="1973" y2="2029.8" stroke="#4ccb7f" stroke-width="1.8"/>
<line x1="1965.5" y1="2029.8" x2="1980.5" y2="2029.8" stroke="#4ccb7f" stroke-width="1.8"/>
<rect x="1959.8" y="2032.9" width="26.5" height="33.9" fill="none" stroke="#000" stroke-width="3"/>
<circle cx="1960.4" cy="2028" r="3.5" fill="#4ccb7f"/>
<circle cx="1972.5" cy="2033.3" r="3.5" fill="#4ccb7f"/>
<circle cx="1985.5" cy="2033.7" r="3.5" fill="#4ccb7f"/>
<circle cx="1960.4" cy="2034.5" r="3.5" fill="#4ccb7f"/>
<line x1="1798.2" y1="2068.2" x2="1798.2" y2="1771.3" stroke="#000" stroke-width="2.9"/>
<line x1="1785.7" y1="2066.8" x2="1799.7" y2="2066.8" stroke="#000" stroke-width="2.9"/>
<text x="1778.2" y="2078.2" font-size="31.5" text-anchor="end" fill="#000">0.0</text>
<line x1="1785.7" y1="1968.4" x2="1799.7" y2="1968.4" stroke="#000" stroke-width="2.9"/>
<text x="1778.2" y="1979.8" font-size="31.5" text-anchor="end" fill="#000">0.5</text>
<line x1="1785.7" y1="1869.9" x2="1799.7" y2="1869.9" stroke="#000" stroke-width="2.9"/>
<text x="1778.2" y="1881.3" font-size="31.5" text-anchor="end" fill="#000">1.0</text>
<line x1="1785.7" y1="1771.5" x2="1799.7" y2="1771.5" stroke="#000" stroke-width="2.9"/>
<text x="1778.2" y="1782.9" font-size="31.5" text-anchor="end" fill="#000">1.5</text>
<line x1="1785.7" y1="2066.8" x2="2005.5" y2="2066.8" stroke="#000" stroke-width="3.3"/>
<line x1="1830" y1="2066.8" x2="1830" y2="2078.8" stroke="#000" stroke-width="2.9"/>
<line x1="1877.6" y1="2066.8" x2="1877.6" y2="2078.8" stroke="#000" stroke-width="2.9"/>
<line x1="1925.6" y1="2066.8" x2="1925.6" y2="2078.8" stroke="#000" stroke-width="2.9"/>
<line x1="1973" y1="2066.8" x2="1973" y2="2078.8" stroke="#000" stroke-width="2.9"/>
<line x1="1830.3" y1="1817.3" x2="1879.8" y2="1817.3" stroke="#000" stroke-width="3.6"/>
<text x="1855" y="1817.6" font-size="25.5" text-anchor="middle" fill="#000" stroke="#000" stroke-width="0.5">***</text>
<line x1="1924.9" y1="1769.7" x2="1974.7" y2="1769.7" stroke="#000" stroke-width="3.6"/>
<text x="1949.8" y="1771.3" font-size="25.5" text-anchor="middle" fill="#000" stroke="#000" stroke-width="0.5">***</text>
<text x="1829.4" y="2108.1" font-size="28" font-weight="bold" text-anchor="middle" fill="#000" stroke="#000" stroke-width="0.7">+</text>
<text x="1877" y="2108.1" font-size="28" font-weight="bold" text-anchor="middle" fill="#000" stroke="#000" stroke-width="0.7">-</text>
<text x="1925" y="2108.1" font-size="28" font-weight="bold" text-anchor="middle" fill="#000" stroke="#000" stroke-width="0.7">+</text>
<text x="1972.4" y="2108.1" font-size="28" font-weight="bold" text-anchor="middle" fill="#000" stroke="#000" stroke-width="0.7">-</text>
<text x="1829.4" y="2140.6" font-size="28" font-weight="bold" text-anchor="middle" fill="#000" stroke="#000" stroke-width="0.7">-</text>
<text x="1877" y="2140.6" font-size="28" font-weight="bold" text-anchor="middle" fill="#000" stroke="#000" stroke-width="0.7">-</text>
<text x="1925" y="2140.6" font-size="28" font-weight="bold" text-anchor="middle" fill="#000" stroke="#000" stroke-width="0.7">+</text>
<text x="1972.4" y="2140.6" font-size="28" font-weight="bold" text-anchor="middle" fill="#000" stroke="#000" stroke-width="0.7">+</text>
<text x="1892" y="1725.1" font-size="36" font-weight="bold" text-anchor="middle" fill="#000">HeLa</text>
<text x="3.6" y="2273.2" font-size="70" font-weight="bold" fill="#000">h</text>
<text x="87.3" y="2295.4" font-size="31" font-weight="bold" fill="#000">A375</text>
<text x="174" y="2295.4" font-size="31" font-weight="bold" fill="#000">cancer</text>
<text x="286.6" y="2295.4" font-size="31" font-weight="bold" fill="#000">cells</text>
<polygon points="260.9,2393.8 259.6,2394 257.8,2394.4 255.8,2394.8 253.5,2395.2 251.1,2395.6 248.7,2396 246.4,2396.4 244.2,2396.6 242.1,2396.9 240.1,2397.2 238.1,2397.5 236.2,2397.7 234.3,2397.9 232.3,2398 230.2,2398.1 227.8,2398 225.3,2397.8 222.4,2397.6 219.4,2397.2 216.2,2396.8 212.9,2396.3 209.6,2395.7 206.3,2395.2 203.2,2394.6 200.1,2394.1 197,2393.4 193.9,2392.7 190.7,2392 187.5,2391.2 184.2,2390.5 180.9,2389.9 177.5,2389.4 174.2,2388.9 171,2388.6 167.7,2388.2 164.4,2388 161.1,2387.8 157.8,2387.7 154.5,2387.6 151.2,2387.7 147.8,2387.9 144.4,2388.1 141,2388.5 137.5,2388.9 134.2,2389.4 130.9,2390 127.7,2390.7 124.6,2391.4 121.7,2392.3 119,2393.2 116.4,2394.2 113.9,2395.4 111.4,2396.5 109,2397.8 106.7,2399.2 104.5,2400.7 102.2,2402.3 100,2404.1 97.8,2406 95.7,2407.9 93.7,2409.9 91.8,2412 90.1,2414 88.5,2416.1 87.2,2418.2 85.9,2420.3 84.8,2422.4 83.9,2424.6 83.1,2426.8 82.5,2429.1 82.2,2431.3 82.1,2433.7 82.5,2436.1 83.3,2438.5 84.4,2440.8 85.6,2442.8 86.8,2444.7 87.9,2446.4 88.8,2447.7 89.4,2448.6 93.6,2446.4 93.1,2445.2 92.3,2443.7 91.3,2442 90.4,2440.2 89.5,2438.3 88.8,2436.5 88.4,2434.9 88.3,2433.5 88.5,2432.1 88.8,2430.6 89.4,2429 90.1,2427.3 91,2425.6 92.1,2423.9 93.2,2422.2 94.5,2420.5 95.9,2418.9 97.4,2417.2 99.2,2415.5 101.1,2413.8 103,2412.2 105.1,2410.6 107.1,2409.2 109.1,2407.9 111.2,2406.7 113.2,2405.6 115.3,2404.6 117.5,2403.7 119.7,2402.9 122,2402.1 124.4,2401.4 127,2400.8 129.7,2400.2 132.6,2399.7 135.6,2399.2 138.8,2398.8 141.9,2398.5 145.2,2398.3 148.3,2398.2 151.4,2398.1 154.5,2398.1 157.5,2398.2 160.5,2398.4 163.6,2398.6 166.6,2399 169.7,2399.3 172.8,2399.8 175.9,2400.2 178.9,2400.8 181.9,2401.4 185,2402.1 188.1,2402.9 191.3,2403.7 194.5,2404.5 197.8,2405.3 201,2406 204.3,2406.6 207.6,2407.2 211,2407.8 214.4,2408.4 217.7,2408.9 221,2409.4 224.2,2409.7 227.2,2410 230,2410.1 232.6,2410.1 235,2410 237.4,2409.9 239.5,2409.7 241.6,2409.4 243.7,2409.2 245.8,2409 248.1,2408.7 250.6,2408.3 253.2,2407.9 255.7,2407.5 258,2407.1 260.1,2406.7 261.8,2406.4 263.1,2406.2" fill="#dfa2a3" stroke="#c7898b" stroke-width="1.1" stroke-linejoin="round"/>
<polygon points="261.6,2396.6 260.3,2396.9 258.6,2397.2 256.5,2397.6 254.2,2398 251.8,2398.4 249.3,2398.8 247,2399.2 244.7,2399.4 242.6,2399.7 240.6,2400 238.6,2400.3 236.6,2400.5 234.5,2400.7 232.4,2400.8 230.1,2400.8 227.6,2400.7 224.9,2400.5 222,2400.2 218.8,2399.8 215.6,2399.3 212.3,2398.8 209,2398.3 205.7,2397.7 202.5,2397.1 199.3,2396.5 196.2,2395.8 193,2395.1 189.9,2394.3 186.7,2393.6 183.5,2392.9 180.2,2392.2 177,2391.7 173.8,2391.3 170.6,2390.9 167.4,2390.5 164.2,2390.2 160.9,2390 157.7,2389.9 154.5,2389.8 151.3,2389.9 148,2390 144.6,2390.2 141.3,2390.5 137.9,2390.9 134.6,2391.4 131.4,2391.9 128.3,2392.6 125.4,2393.3 122.6,2394.1 120,2394.9 117.5,2395.8 115,2396.9 112.7,2398 110.4,2399.2 108.2,2400.5 106,2401.8 103.8,2403.4 101.6,2405 99.5,2406.8 97.4,2408.6 95.4,2410.5 93.6,2412.5 91.9,2414.4 90.5,2416.3 89.1,2418.3 87.9,2420.2 86.8,2422.2 85.9,2424.3 85.1,2426.3 84.6,2428.3 86.8,2429 87.3,2427.1 88.1,2425.2 89,2423.4 90.1,2421.5 91.3,2419.7 92.5,2417.9 94,2416.1 95.6,2414.3 97.4,2412.5 99.3,2410.7 101.3,2409 103.4,2407.3 105.5,2405.8 107.6,2404.4 109.7,2403.1 111.9,2401.9 114.1,2400.8 116.3,2399.8 118.6,2398.9 121,2398 123.6,2397.2 126.2,2396.5 129,2395.9 132,2395.3 135.1,2394.8 138.4,2394.4 141.6,2394.1 144.9,2393.8 148.2,2393.6 151.3,2393.5 154.5,2393.5 157.6,2393.6 160.7,2393.7 163.9,2394 167,2394.3 170.1,2394.6 173.3,2395.1 176.4,2395.5 179.5,2396 182.6,2396.7 185.8,2397.4 188.9,2398.2 192.1,2398.9 195.3,2399.7 198.5,2400.4 201.7,2401.1 205,2401.7 208.3,2402.3 211.6,2402.9 215,2403.4 218.3,2403.9 221.5,2404.3 224.5,2404.7 227.4,2404.9 230,2405 232.5,2405 234.8,2404.9 237,2404.7 239.1,2404.5 241.1,2404.3 243.2,2404 245.3,2403.8 247.6,2403.5 250,2403.1 252.5,2402.7 255,2402.3 257.3,2401.9 259.3,2401.5 261.1,2401.2 262.4,2401" fill="#e8b9b9" opacity="0.8"/>
<polygon points="262,2396 262.5,2380 266,2362 274,2345 287,2331 305,2319 330,2310.5 356,2306 378,2305.5 398,2309.5 414,2317.5 432,2327 450,2340 466,2357 479,2376 488,2391 492.5,2400 489,2407 478,2410 462,2410.5 444,2410 430,2413 412,2415 392,2414.5 370,2413.5 350,2413 336,2414.5 318,2411 298,2408.5 280,2405 268,2401" fill="#e9e8e6" stroke="#c9c6c1" stroke-width="1.2" stroke-linejoin="round"/>
<polygon points="262.5,2380 272,2392 290,2398 320,2400 352,2402 380,2401 400,2396 412,2388 420,2398 430,2405 450,2407 470,2408 478,2410 462,2410.5 444,2410 430,2413 412,2415 392,2414.5 370,2413.5 350,2413 336,2414.5 318,2411 298,2408.5 280,2405 268,2401 262,2396" fill="#dbd8d3"/>
<polygon points="262.5,2380 266,2362 274,2345 280,2338 277,2355 276,2372 282,2390 272,2392" fill="#dfdcd7"/>
<polygon points="286,2405 300,2410 318,2412 333,2415 338,2419.5 330,2421 318,2419.5 303,2418 290,2415 283,2410" fill="#eab0b0" stroke="#cf9597" stroke-width="1"/>
<polygon points="412,2414 425,2414.5 433,2417 438,2421 431,2422.5 420,2421.5 411,2419" fill="#eab0b0" stroke="#cf9597" stroke-width="1"/>
<path d="M433.5,2333 C434,2324 440,2318.5 446,2319.5 C451,2321 452.5,2330 451,2336 Z" fill="#d9d6d1" stroke="#bcb8b3" stroke-width="1"/>
<ellipse cx="413.5" cy="2343" rx="15" ry="19.5" transform="rotate(-8 413.5 2343)" fill="#e9b8b6" stroke="#cf9c9b" stroke-width="1.2"/>
<ellipse cx="416" cy="2346" rx="8" ry="13" transform="rotate(-8 416 2346)" fill="#dc9fa0"/>
<circle cx="457.5" cy="2374" r="5" fill="#a5121b"/>
<circle cx="456.3" cy="2372.8" r="1.3" fill="#e05a60"/>
<ellipse cx="490.5" cy="2400" rx="3" ry="4.5" fill="#e39a9b"/>
<line x1="480" y1="2395" x2="505" y2="2382" stroke="#b9b6b2" stroke-width="0.8"/>
<line x1="480" y1="2397" x2="507" y2="2389" stroke="#b9b6b2" stroke-width="0.8"/>
<line x1="478" y1="2400" x2="503" y2="2404" stroke="#b9b6b2" stroke-width="0.8"/>
<line x1="470" y1="2397" x2="440" y2="2392" stroke="#b9b6b2" stroke-width="0.8"/>
<line x1="470" y1="2400" x2="442" y2="2399" stroke="#b9b6b2" stroke-width="0.8"/>
<line x1="472" y1="2403" x2="448" y2="2406" stroke="#b9b6b2" stroke-width="0.8"/>
<g transform="translate(195.5 2323.5) rotate(24.4)">
<rect x="0" y="-9.5" width="2.6" height="19" fill="#dfe6ea" stroke="#8e9ba3" stroke-width="1"/>
<rect x="2.6" y="-3.2" width="30" height="6.4" fill="#e9eef1" stroke="#8e9ba3" stroke-width="1"/>
<rect x="31" y="-11" width="3" height="22" fill="#dfe6ea" stroke="#8e9ba3" stroke-width="1"/>
<rect x="34" y="-8" width="44" height="16" fill="#eef2f4" stroke="#8e9ba3" stroke-width="1.1"/>
<rect x="46" y="-6.8" width="31" height="13.6" fill="#f0d9a8"/>
<rect x="42" y="-7.2" width="4.5" height="14.4" fill="#3d4448"/>
<polygon points="78,-3.5 85,-1.2 85,1.2 78,3.5" fill="#e3a444"/>
<line x1="85" y1="0" x2="113" y2="0" stroke="#5c6266" stroke-width="1.3"/>
</g>
<line x1="322.7" y1="2442.7" x2="322.7" y2="2492" stroke="#000" stroke-width="4.6"/>
<polygon points="310,2489 335.6,2489 322.8,2514" fill="#000"/>
<polygon points="260.9,2614.2 259.6,2614.4 257.8,2614.8 255.8,2615.2 253.5,2615.6 251.1,2616 248.7,2616.4 246.4,2616.8 244.2,2617 242.1,2617.3 240.1,2617.6 238.1,2617.9 236.2,2618.1 234.3,2618.3 232.3,2618.4 230.2,2618.5 227.8,2618.4 225.3,2618.2 222.4,2618 219.4,2617.6 216.2,2617.2 212.9,2616.7 209.6,2616.1 206.3,2615.6 203.2,2615 200.1,2614.5 197,2613.8 193.9,2613.1 190.7,2612.4 187.5,2611.6 184.2,2610.9 180.9,2610.3 177.5,2609.8 174.2,2609.3 171,2609 167.7,2608.6 164.4,2608.4 161.1,2608.2 157.8,2608.1 154.5,2608 151.2,2608.1 147.8,2608.3 144.4,2608.5 141,2608.9 137.5,2609.3 134.2,2609.8 130.9,2610.4 127.7,2611.1 124.6,2611.8 121.7,2612.7 119,2613.6 116.4,2614.6 113.9,2615.8 111.4,2616.9 109,2618.2 106.7,2619.6 104.5,2621.1 102.2,2622.7 100,2624.5 97.8,2626.4 95.7,2628.3 93.7,2630.3 91.8,2632.4 90.1,2634.4 88.5,2636.5 87.2,2638.6 85.9,2640.7 84.8,2642.8 83.9,2645 83.1,2647.2 82.5,2649.5 82.2,2651.7 82.1,2654.1 82.5,2656.5 83.3,2658.9 84.4,2661.2 85.6,2663.2 86.8,2665.1 87.9,2666.8 88.8,2668.1 89.4,2669 93.6,2666.8 93.1,2665.6 92.3,2664.1 91.3,2662.4 90.4,2660.6 89.5,2658.7 88.8,2656.9 88.4,2655.3 88.3,2653.9 88.5,2652.5 88.8,2651 89.4,2649.4 90.1,2647.7 91,2646 92.1,2644.3 93.2,2642.6 94.5,2640.9 95.9,2639.3 97.4,2637.6 99.2,2635.9 101.1,2634.2 103,2632.6 105.1,2631 107.1,2629.6 109.1,2628.3 111.2,2627.1 113.2,2626 115.3,2625 117.5,2624.1 119.7,2623.3 122,2622.5 124.4,2621.8 127,2621.2 129.7,2620.6 132.6,2620.1 135.6,2619.6 138.8,2619.2 141.9,2618.9 145.2,2618.7 148.3,2618.6 151.4,2618.5 154.5,2618.5 157.5,2618.6 160.5,2618.8 163.6,2619 166.6,2619.4 169.7,2619.7 172.8,2620.2 175.9,2620.6 178.9,2621.2 181.9,2621.8 185,2622.5 188.1,2623.3 191.3,2624.1 194.5,2624.9 197.8,2625.7 201,2626.4 204.3,2627 207.6,2627.6 211,2628.2 214.4,2628.8 217.7,2629.3 221,2629.8 224.2,2630.1 227.2,2630.4 230,2630.5 232.6,2630.5 235,2630.4 237.4,2630.3 239.5,2630.1 241.6,2629.8 243.7,2629.6 245.8,2629.4 248.1,2629.1 250.6,2628.7 253.2,2628.3 255.7,2627.9 258,2627.5 260.1,2627.1 261.8,2626.8 263.1,2626.6" fill="#dfa2a3" stroke="#c7898b" stroke-width="1.1" stroke-linejoin="round"/>
<polygon points="261.6,2617 260.3,2617.3 258.6,2617.6 256.5,2618 254.2,2618.4 251.8,2618.8 249.3,2619.2 247,2619.6 244.7,2619.8 242.6,2620.1 240.6,2620.4 238.6,2620.7 236.6,2620.9 234.5,2621.1 232.4,2621.2 230.1,2621.2 227.6,2621.1 224.9,2620.9 222,2620.6 218.8,2620.2 215.6,2619.7 212.3,2619.2 209,2618.7 205.7,2618.1 202.5,2617.5 199.3,2616.9 196.2,2616.2 193,2615.5 189.9,2614.7 186.7,2614 183.5,2613.3 180.2,2612.6 177,2612.1 173.8,2611.7 170.6,2611.3 167.4,2610.9 164.2,2610.6 160.9,2610.4 157.7,2610.3 154.5,2610.2 151.3,2610.3 148,2610.4 144.6,2610.6 141.3,2610.9 137.9,2611.3 134.6,2611.8 131.4,2612.3 128.3,2613 125.4,2613.7 122.6,2614.5 120,2615.3 117.5,2616.2 115,2617.3 112.7,2618.4 110.4,2619.6 108.2,2620.9 106,2622.2 103.8,2623.8 101.6,2625.4 99.5,2627.2 97.4,2629 95.4,2630.9 93.6,2632.9 91.9,2634.8 90.5,2636.7 89.1,2638.7 87.9,2640.6 86.8,2642.6 85.9,2644.7 85.1,2646.7 84.6,2648.7 86.8,2649.4 87.3,2647.5 88.1,2645.6 89,2643.8 90.1,2641.9 91.3,2640.1 92.5,2638.3 94,2636.5 95.6,2634.7 97.4,2632.9 99.3,2631.1 101.3,2629.4 103.4,2627.7 105.5,2626.2 107.6,2624.8 109.7,2623.5 111.9,2622.3 114.1,2621.2 116.3,2620.2 118.6,2619.3 121,2618.4 123.6,2617.6 126.2,2616.9 129,2616.3 132,2615.7 135.1,2615.2 138.4,2614.8 141.6,2614.5 144.9,2614.2 148.2,2614 151.3,2613.9 154.5,2613.9 157.6,2614 160.7,2614.1 163.9,2614.4 167,2614.7 170.1,2615 173.3,2615.5 176.4,2615.9 179.5,2616.4 182.6,2617.1 185.8,2617.8 188.9,2618.6 192.1,2619.3 195.3,2620.1 198.5,2620.8 201.7,2621.5 205,2622.1 208.3,2622.7 211.6,2623.3 215,2623.8 218.3,2624.3 221.5,2624.7 224.5,2625.1 227.4,2625.3 230,2625.4 232.5,2625.4 234.8,2625.3 237,2625.1 239.1,2624.9 241.1,2624.7 243.2,2624.4 245.3,2624.2 247.6,2623.9 250,2623.5 252.5,2623.1 255,2622.7 257.3,2622.3 259.3,2621.9 261.1,2621.6 262.4,2621.4" fill="#e8b9b9" opacity="0.8"/>
<polygon points="262,2616.4 262.5,2600.4 266,2582.4 274,2565.4 287,2551.4 305,2539.4 330,2530.9 356,2526.4 378,2525.9 398,2529.9 414,2537.9 432,2547.4 450,2560.4 466,2577.4 479,2596.4 488,2611.4 492.5,2620.4 489,2627.4 478,2630.4 462,2630.9 444,2630.4 430,2633.4 412,2635.4 392,2634.9 370,2633.9 350,2633.4 336,2634.9 318,2631.4 298,2628.9 280,2625.4 268,2621.4" fill="#e9e8e6" stroke="#c9c6c1" stroke-width="1.2" stroke-linejoin="round"/>
<polygon points="262.5,2600.4 272,2612.4 290,2618.4 320,2620.4 352,2622.4 380,2621.4 400,2616.4 412,2608.4 420,2618.4 430,2625.4 450,2627.4 470,2628.4 478,2630.4 462,2630.9 444,2630.4 430,2633.4 412,2635.4 392,2634.9 370,2633.9 350,2633.4 336,2634.9 318,2631.4 298,2628.9 280,2625.4 268,2621.4 262,2616.4" fill="#dbd8d3"/>
<polygon points="262.5,2600.4 266,2582.4 274,2565.4 280,2558.4 277,2575.4 276,2592.4 282,2610.4 272,2612.4" fill="#dfdcd7"/>
<polygon points="286,2625.4 300,2630.4 318,2632.4 333,2635.4 338,2639.9 330,2641.4 318,2639.9 303,2638.4 290,2635.4 283,2630.4" fill="#eab0b0" stroke="#cf9597" stroke-width="1"/>
<polygon points="412,2634.4 425,2634.9 433,2637.4 438,2641.4 431,2642.9 420,2641.9 411,2639.4" fill="#eab0b0" stroke="#cf9597" stroke-width="1"/>
<path d="M433.5,2553.4 C434,2544.4 440,2538.9 446,2539.9 C451,2541.4 452.5,2550.4 451,2556.4 Z" fill="#d9d6d1" stroke="#bcb8b3" stroke-width="1"/>
<ellipse cx="413.5" cy="2563.4" rx="15" ry="19.5" transform="rotate(-8 413.5 2563.4)" fill="#e9b8b6" stroke="#cf9c9b" stroke-width="1.2"/>
<ellipse cx="416" cy="2566.4" rx="8" ry="13" transform="rotate(-8 416 2566.4)" fill="#dc9fa0"/>
<circle cx="457.5" cy="2594.4" r="5" fill="#a5121b"/>
<circle cx="456.3" cy="2593.2" r="1.3" fill="#e05a60"/>
<ellipse cx="490.5" cy="2620.4" rx="3" ry="4.5" fill="#e39a9b"/>
<line x1="480" y1="2615.4" x2="505" y2="2602.4" stroke="#b9b6b2" stroke-width="0.8"/>
<line x1="480" y1="2617.4" x2="507" y2="2609.4" stroke="#b9b6b2" stroke-width="0.8"/>
<line x1="478" y1="2620.4" x2="503" y2="2624.4" stroke="#b9b6b2" stroke-width="0.8"/>
<line x1="470" y1="2617.4" x2="440" y2="2612.4" stroke="#b9b6b2" stroke-width="0.8"/>
<line x1="470" y1="2620.4" x2="442" y2="2619.4" stroke="#b9b6b2" stroke-width="0.8"/>
<line x1="472" y1="2623.4" x2="448" y2="2626.4" stroke="#b9b6b2" stroke-width="0.8"/>
<polygon points="338,2596.6 338.2,2599.8 336.9,2602.7 335.4,2605.5 333.9,2608.2 331.8,2610.5 329.3,2612.3 327.4,2614.7 325.6,2617.7 322.8,2619.6 319.2,2619.4 315.8,2618.4 312.8,2618.6 309.6,2619.7 306.3,2619.7 303.3,2618.5 300.3,2617.1 297.5,2615.5 295.6,2612.9 294.5,2610 292.7,2607.6 289.7,2605.7 287.4,2603.1 287.5,2599.8 289,2596.6 289.7,2593.7 289.6,2590.7 290.2,2587.7 291.5,2584.9 292.9,2582.1 294.7,2579.4 297.6,2577.7 301.1,2577.4 304.1,2576.6 306.5,2574.4 309.4,2572.2 312.8,2572.1 316,2573.5 319,2574.7 322,2575.5 324.8,2576.8 327.4,2578.6 330.2,2580 333.3,2581.6 335.1,2584.4 334.9,2587.9 334.7,2591 336.1,2593.7" fill="#f4cdcd" stroke="#cf8f92" stroke-width="1.4" stroke-linejoin="round"/>
<circle cx="303" cy="2588" r="6" fill="#f8dede" opacity="0.75"/>
<circle cx="318" cy="2592" r="7" fill="#f8dede" opacity="0.75"/>
<circle cx="309" cy="2604" r="6.5" fill="#f8dede" opacity="0.75"/>
<circle cx="324" cy="2606" r="5" fill="#f8dede" opacity="0.75"/>
<circle cx="299" cy="2599" r="5" fill="#f8dede" opacity="0.75"/>
<circle cx="316" cy="2580" r="5" fill="#f8dede" opacity="0.75"/>
<circle cx="328" cy="2595" r="4.5" fill="#f8dede" opacity="0.75"/>
<text x="630.2" y="2272.9" font-size="70" font-weight="bold" fill="#000">i</text>
<text x="907.7" y="2264.4" font-size="36" font-weight="bold" text-anchor="middle" fill="#000">A375 Xenograft</text>
<line x1="775.2" y1="2323.2" x2="812.9" y2="2323.2" stroke="#2b2b2b" stroke-width="5.4"/>
<circle cx="794.4" cy="2323.2" r="7.2" fill="#2b2b2b"/>
<line x1="775.2" y1="2370.2" x2="812.9" y2="2370.2" stroke="#4ccb7f" stroke-width="5.4"/>
<circle cx="794.4" cy="2370.2" r="7.2" fill="#4ccb7f"/>
<text x="833.9" y="2332.7" font-size="27.7" font-weight="bold" fill="#1a1a1a">ΔNADK2 + NADK2</text>
<text x="833.9" y="2378.5" font-size="27.7" font-weight="bold" fill="#1a1a1a">ΔNADK2 + EV</text>
<text x="648.6" y="2508.9" font-size="31.5" font-weight="bold" text-anchor="middle" fill="#000" transform="rotate(-90 648.6 2508.9)">Tumor Volume (mm<tspan font-size="19" dy="-11.5">3</tspan><tspan dy="11.5">)</tspan></text>
<line x1="750" y1="2642.5" x2="750" y2="2401.8" stroke="#000" stroke-width="2.9"/>
<line x1="741.2" y1="2641.1" x2="751.5" y2="2641.1" stroke="#000" stroke-width="2.9"/>
<text x="733.7" y="2652.5" font-size="31.5" text-anchor="end" fill="#000">0</text>
<line x1="741.2" y1="2541.9" x2="751.5" y2="2541.9" stroke="#000" stroke-width="2.9"/>
<text x="733.7" y="2553.4" font-size="31.5" text-anchor="end" fill="#000">500</text>
<line x1="741.2" y1="2442.8" x2="751.5" y2="2442.8" stroke="#000" stroke-width="2.9"/>
<text x="733.7" y="2454.2" font-size="31.5" text-anchor="end" fill="#000">1000</text>
<line x1="741.2" y1="2641.1" x2="1071" y2="2641.1" stroke="#000" stroke-width="3.3"/>
<line x1="776" y1="2641.1" x2="776" y2="2650.6" stroke="#000" stroke-width="2.9"/>
<line x1="814.1" y1="2641.1" x2="814.1" y2="2650.6" stroke="#000" stroke-width="2.9"/>
<line x1="852.2" y1="2641.1" x2="852.2" y2="2650.6" stroke="#000" stroke-width="2.9"/>
<line x1="891.3" y1="2641.1" x2="891.3" y2="2650.6" stroke="#000" stroke-width="2.9"/>
<line x1="929.3" y1="2641.1" x2="929.3" y2="2650.6" stroke="#000" stroke-width="2.9"/>
<line x1="967.4" y1="2641.1" x2="967.4" y2="2650.6" stroke="#000" stroke-width="2.9"/>
<line x1="1006.5" y1="2641.1" x2="1006.5" y2="2650.6" stroke="#000" stroke-width="2.9"/>
<line x1="1044.6" y1="2641.1" x2="1044.6" y2="2650.6" stroke="#000" stroke-width="2.9"/>
<text x="776" y="2678.7" font-size="27.5" text-anchor="middle" fill="#000">7</text>
<text x="814.1" y="2678.7" font-size="27.5" text-anchor="middle" fill="#000">10</text>
<text x="852.2" y="2678.7" font-size="27.5" text-anchor="middle" fill="#000">13</text>
<text x="891.3" y="2678.7" font-size="27.5" text-anchor="middle" fill="#000">17</text>
<text x="929.3" y="2678.7" font-size="27.5" text-anchor="middle" fill="#000">20</text>
<text x="967.4" y="2678.7" font-size="27.5" text-anchor="middle" fill="#000">23</text>
<text x="1006.5" y="2678.7" font-size="27.5" text-anchor="middle" fill="#000">26</text>
<text x="1044.6" y="2678.7" font-size="27.5" text-anchor="middle" fill="#000">29</text>
<line x1="929.3" y1="2621.2" x2="929.3" y2="2618" stroke="#4ccb7f" stroke-width="1.5"/>
<line x1="923.8" y1="2621.2" x2="934.8" y2="2621.2" stroke="#4ccb7f" stroke-width="1.5"/>
<line x1="923.8" y1="2618" x2="934.8" y2="2618" stroke="#4ccb7f" stroke-width="1.5"/>
<line x1="1006.5" y1="2612.2" x2="1006.5" y2="2604.2" stroke="#4ccb7f" stroke-width="1.5"/>
<line x1="1001" y1="2612.2" x2="1012" y2="2612.2" stroke="#4ccb7f" stroke-width="1.5"/>
<line x1="1001" y1="2604.2" x2="1012" y2="2604.2" stroke="#4ccb7f" stroke-width="1.5"/>
<line x1="1044.6" y1="2616.3" x2="1044.6" y2="2606.3" stroke="#4ccb7f" stroke-width="1.5"/>
<line x1="1039.1" y1="2616.3" x2="1050.1" y2="2616.3" stroke="#4ccb7f" stroke-width="1.5"/>
<line x1="1039.1" y1="2606.3" x2="1050.1" y2="2606.3" stroke="#4ccb7f" stroke-width="1.5"/>
<polyline points="776,2632.9 814.1,2635 852.2,2632.5 891.3,2629.2 929.3,2619.6 967.4,2616 1006.5,2608.2 1044.6,2611.3" fill="none" stroke="#4ccb7f" stroke-width="3.6" stroke-linejoin="round"/>
<circle cx="776" cy="2632.9" r="5.2" fill="#4ccb7f"/>
<circle cx="814.1" cy="2635" r="5.2" fill="#4ccb7f"/>
<circle cx="852.2" cy="2632.5" r="5.2" fill="#4ccb7f"/>
<circle cx="891.3" cy="2629.2" r="5.2" fill="#4ccb7f"/>
<circle cx="929.3" cy="2619.6" r="5.2" fill="#4ccb7f"/>
<circle cx="967.4" cy="2616" r="5.2" fill="#4ccb7f"/>
<circle cx="1006.5" cy="2608.2" r="5.2" fill="#4ccb7f"/>
<circle cx="1044.6" cy="2611.3" r="5.2" fill="#4ccb7f"/>
<line x1="929.3" y1="2589.6" x2="929.3" y2="2568.6" stroke="#2b2b2b" stroke-width="1.5"/>
<line x1="923.8" y1="2589.6" x2="934.8" y2="2589.6" stroke="#2b2b2b" stroke-width="1.5"/>
<line x1="923.8" y1="2568.6" x2="934.8" y2="2568.6" stroke="#2b2b2b" stroke-width="1.5"/>
<line x1="967.4" y1="2567.2" x2="967.4" y2="2548.2" stroke="#2b2b2b" stroke-width="1.5"/>
<line x1="961.9" y1="2567.2" x2="972.9" y2="2567.2" stroke="#2b2b2b" stroke-width="1.5"/>
<line x1="961.9" y1="2548.2" x2="972.9" y2="2548.2" stroke="#2b2b2b" stroke-width="1.5"/>
<line x1="1006.5" y1="2522.4" x2="1006.5" y2="2482.8" stroke="#2b2b2b" stroke-width="1.5"/>
<line x1="1001" y1="2522.4" x2="1012" y2="2522.4" stroke="#2b2b2b" stroke-width="1.5"/>
<line x1="1001" y1="2482.8" x2="1012" y2="2482.8" stroke="#2b2b2b" stroke-width="1.5"/>
<line x1="1044.6" y1="2504.9" x2="1044.6" y2="2450.1" stroke="#2b2b2b" stroke-width="1.5"/>
<line x1="1039.1" y1="2504.9" x2="1050.1" y2="2504.9" stroke="#2b2b2b" stroke-width="1.5"/>
<line x1="1039.1" y1="2450.1" x2="1050.1" y2="2450.1" stroke="#2b2b2b" stroke-width="1.5"/>
<polyline points="776,2627.8 814.1,2627.8 852.2,2627.8 891.3,2614.8 929.3,2579.1 967.4,2557.7 1006.5,2502.6 1044.6,2477.5" fill="none" stroke="#2b2b2b" stroke-width="3.6" stroke-linejoin="round"/>
<circle cx="776" cy="2627.8" r="5.2" fill="#2b2b2b"/>
<circle cx="814.1" cy="2627.8" r="5.2" fill="#2b2b2b"/>
<circle cx="852.2" cy="2627.8" r="5.2" fill="#2b2b2b"/>
<circle cx="891.3" cy="2614.8" r="5.2" fill="#2b2b2b"/>
<circle cx="929.3" cy="2579.1" r="5.2" fill="#2b2b2b"/>
<circle cx="967.4" cy="2557.7" r="5.2" fill="#2b2b2b"/>
<circle cx="1006.5" cy="2502.6" r="5.2" fill="#2b2b2b"/>
<circle cx="1044.6" cy="2477.5" r="5.2" fill="#2b2b2b"/>
<text x="1042" y="2448.3" font-size="25.5" text-anchor="middle" fill="#000" stroke="#000" stroke-width="0.5">***</text>
<text x="906.2" y="2711" font-size="22.5" font-weight="bold" text-anchor="middle" fill="#000">(Days)</text>
<text x="1209.6" y="2273.2" font-size="70" font-weight="bold" fill="#000">j</text>
<text x="1414.3" y="2263.5" font-size="36" font-weight="bold" text-anchor="middle" fill="#000">A375 tumor</text>
<text x="1294.3" y="2487.6" font-size="31.5" font-weight="bold" text-anchor="middle" fill="#000" transform="rotate(-90 1294.3 2487.6)">Tumor Weight (g)</text>
<line x1="1417.1" y1="2457.2" x2="1417.1" y2="2396.1" stroke="#2b2b2b" stroke-width="1.8"/>
<line x1="1409.6" y1="2396.1" x2="1424.6" y2="2396.1" stroke="#2b2b2b" stroke-width="1.8"/>
<rect x="1403.7" y="2457.2" width="26.8" height="208.2" fill="none" stroke="#000" stroke-width="3"/>
<circle cx="1417.1" cy="2351.6" r="3.5" fill="#2b2b2b"/>
<circle cx="1417.1" cy="2388.4" r="3.5" fill="#2b2b2b"/>
<circle cx="1417.1" cy="2438.5" r="3.5" fill="#2b2b2b"/>
<circle cx="1417.1" cy="2465.8" r="3.5" fill="#2b2b2b"/>
<circle cx="1417.1" cy="2478.5" r="3.5" fill="#2b2b2b"/>
<circle cx="1417.1" cy="2490.3" r="3.5" fill="#2b2b2b"/>
<circle cx="1417.1" cy="2507.2" r="3.5" fill="#2b2b2b"/>
<circle cx="1417.1" cy="2530.8" r="3.5" fill="#2b2b2b"/>
<line x1="1465.5" y1="2625.8" x2="1465.5" y2="2614.7" stroke="#4ccb7f" stroke-width="1.8"/>
<line x1="1458" y1="2614.7" x2="1473" y2="2614.7" stroke="#4ccb7f" stroke-width="1.8"/>
<rect x="1452.1" y="2625.8" width="26.8" height="39.6" fill="none" stroke="#000" stroke-width="3"/>
<circle cx="1465.5" cy="2608.8" r="3.5" fill="#4ccb7f"/>
<circle cx="1452.9" cy="2620.4" r="3.5" fill="#4ccb7f"/>
<circle cx="1478.3" cy="2616.5" r="3.5" fill="#4ccb7f"/>
<circle cx="1465.5" cy="2622.6" r="3.5" fill="#4ccb7f"/>
<circle cx="1452.9" cy="2629.4" r="3.5" fill="#4ccb7f"/>
<circle cx="1478.3" cy="2629.4" r="3.5" fill="#4ccb7f"/>
<circle cx="1459.1" cy="2640.3" r="3.5" fill="#4ccb7f"/>
<circle cx="1472.4" cy="2637.8" r="3.5" fill="#4ccb7f"/>
<line x1="1384.7" y1="2666.8" x2="1384.7" y2="2325.9" stroke="#000" stroke-width="2.9"/>
<line x1="1372.2" y1="2665.4" x2="1386.2" y2="2665.4" stroke="#000" stroke-width="2.9"/>
<text x="1364.7" y="2676.8" font-size="31.5" text-anchor="end" fill="#000">0.0</text>
<line x1="1372.2" y1="2552.3" x2="1386.2" y2="2552.3" stroke="#000" stroke-width="2.9"/>
<text x="1364.7" y="2563.7" font-size="31.5" text-anchor="end" fill="#000">0.5</text>
<line x1="1372.2" y1="2439.1" x2="1386.2" y2="2439.1" stroke="#000" stroke-width="2.9"/>
<text x="1364.7" y="2450.5" font-size="31.5" text-anchor="end" fill="#000">1.0</text>
<line x1="1372.2" y1="2326" x2="1386.2" y2="2326" stroke="#000" stroke-width="2.9"/>
<text x="1364.7" y="2337.4" font-size="31.5" text-anchor="end" fill="#000">1.5</text>
<line x1="1372.2" y1="2665.4" x2="1499" y2="2665.4" stroke="#000" stroke-width="3.3"/>
<line x1="1417.1" y1="2665.4" x2="1417.1" y2="2679.9" stroke="#000" stroke-width="2.9"/>
<line x1="1465.5" y1="2665.4" x2="1465.5" y2="2679.9" stroke="#000" stroke-width="2.9"/>
<line x1="1416.2" y1="2332.5" x2="1458.6" y2="2332.5" stroke="#000" stroke-width="3.6"/>
<text x="1437.4" y="2336.3" font-size="25.5" text-anchor="middle" fill="#000" stroke="#000" stroke-width="0.5">***</text>
<text x="1282.9" y="2707.8" font-size="27.5" font-weight="bold" fill="#000">NADK2:</text>
<text x="1418.1" y="2707" font-size="28" font-weight="bold" text-anchor="middle" fill="#000" stroke="#000" stroke-width="0.7">+</text>
<text x="1465.6" y="2707" font-size="28" font-weight="bold" text-anchor="middle" fill="#000" stroke="#000" stroke-width="0.7">-</text>
<text x="1637" y="2273.6" font-size="70" font-weight="bold" fill="#000">k</text>
<text x="1885.8" y="2263.8" font-size="36" font-weight="bold" text-anchor="middle" fill="#000">A375 Tumor</text>
<text x="1894.4" y="2325.4" font-size="36" font-weight="bold" text-anchor="middle" fill="#000">Proline</text>
<text x="1705.3" y="2498" font-size="31" font-weight="bold" text-anchor="middle" fill="#000" transform="rotate(-90 1705.3 2498)">Normalized</text>
<text x="1743.8" y="2494.5" font-size="31" font-weight="bold" text-anchor="middle" fill="#000" transform="rotate(-90 1743.8 2494.5)" word-spacing="3">Peak area (x 10<tspan font-size="19" dy="-11">7</tspan><tspan dy="11">)</tspan></text>
<line x1="1874.9" y1="2496.7" x2="1874.9" y2="2409" stroke="#2b2b2b" stroke-width="1.8"/>
<line x1="1867.4" y1="2409" x2="1882.4" y2="2409" stroke="#2b2b2b" stroke-width="1.8"/>
<rect x="1862.6" y="2496.7" width="24.6" height="168.1" fill="none" stroke="#000" stroke-width="3"/>
<circle cx="1874.9" cy="2417.7" r="3.5" fill="#2b2b2b"/>
<circle cx="1874.9" cy="2445.6" r="3.5" fill="#2b2b2b"/>
<circle cx="1874.9" cy="2506.5" r="3.5" fill="#2b2b2b"/>
<circle cx="1874.9" cy="2612.4" r="3.5" fill="#2b2b2b"/>
<line x1="1919.3" y1="2605" x2="1919.3" y2="2585.3" stroke="#4ccb7f" stroke-width="1.8"/>
<line x1="1911.8" y1="2585.3" x2="1926.8" y2="2585.3" stroke="#4ccb7f" stroke-width="1.8"/>
<rect x="1907" y="2605" width="24.6" height="59.8" fill="none" stroke="#000" stroke-width="3"/>
<circle cx="1919.3" cy="2585.3" r="3.5" fill="#4ccb7f"/>
<circle cx="1919.3" cy="2597.2" r="3.5" fill="#4ccb7f"/>
<circle cx="1919.3" cy="2608.2" r="3.5" fill="#4ccb7f"/>
<circle cx="1919.3" cy="2632.1" r="3.5" fill="#4ccb7f"/>
<line x1="1845.9" y1="2666.2" x2="1845.9" y2="2357.3" stroke="#000" stroke-width="2.9"/>
<line x1="1833.4" y1="2664.8" x2="1847.4" y2="2664.8" stroke="#000" stroke-width="2.9"/>
<text x="1825.9" y="2676.2" font-size="31.5" text-anchor="end" fill="#000">0.0</text>
<line x1="1833.4" y1="2588" x2="1847.4" y2="2588" stroke="#000" stroke-width="2.9"/>
<text x="1825.9" y="2599.4" font-size="31.5" text-anchor="end" fill="#000">0.5</text>
<line x1="1833.4" y1="2511.1" x2="1847.4" y2="2511.1" stroke="#000" stroke-width="2.9"/>
<text x="1825.9" y="2522.5" font-size="31.5" text-anchor="end" fill="#000">1.0</text>
<line x1="1833.4" y1="2434.2" x2="1847.4" y2="2434.2" stroke="#000" stroke-width="2.9"/>
<text x="1825.9" y="2445.7" font-size="31.5" text-anchor="end" fill="#000">1.5</text>
<line x1="1833.4" y1="2357.4" x2="1847.4" y2="2357.4" stroke="#000" stroke-width="2.9"/>
<text x="1825.9" y="2368.8" font-size="31.5" text-anchor="end" fill="#000">2.0</text>
<line x1="1833.4" y1="2664.8" x2="1949.3" y2="2664.8" stroke="#000" stroke-width="3.3"/>
<line x1="1874.9" y1="2664.8" x2="1874.9" y2="2676.8" stroke="#000" stroke-width="2.9"/>
<line x1="1919.3" y1="2664.8" x2="1919.3" y2="2676.8" stroke="#000" stroke-width="2.9"/>
<line x1="1873.5" y1="2389.9" x2="1919.5" y2="2389.9" stroke="#000" stroke-width="3.6"/>
<text x="1896.4" y="2391.8" font-size="25.5" text-anchor="middle" fill="#000" stroke="#000" stroke-width="0.5">*</text>
<text x="1739.9" y="2706" font-size="27.5" font-weight="bold" fill="#000">NADK2:</text>
<text x="1875.2" y="2706.8" font-size="28" font-weight="bold" text-anchor="middle" fill="#000" stroke="#000" stroke-width="0.7">+</text>
<text x="1919" y="2706.8" font-size="28" font-weight="bold" text-anchor="middle" fill="#000" stroke="#000" stroke-width="0.7">-</text>
</svg>
</body>
</html>
